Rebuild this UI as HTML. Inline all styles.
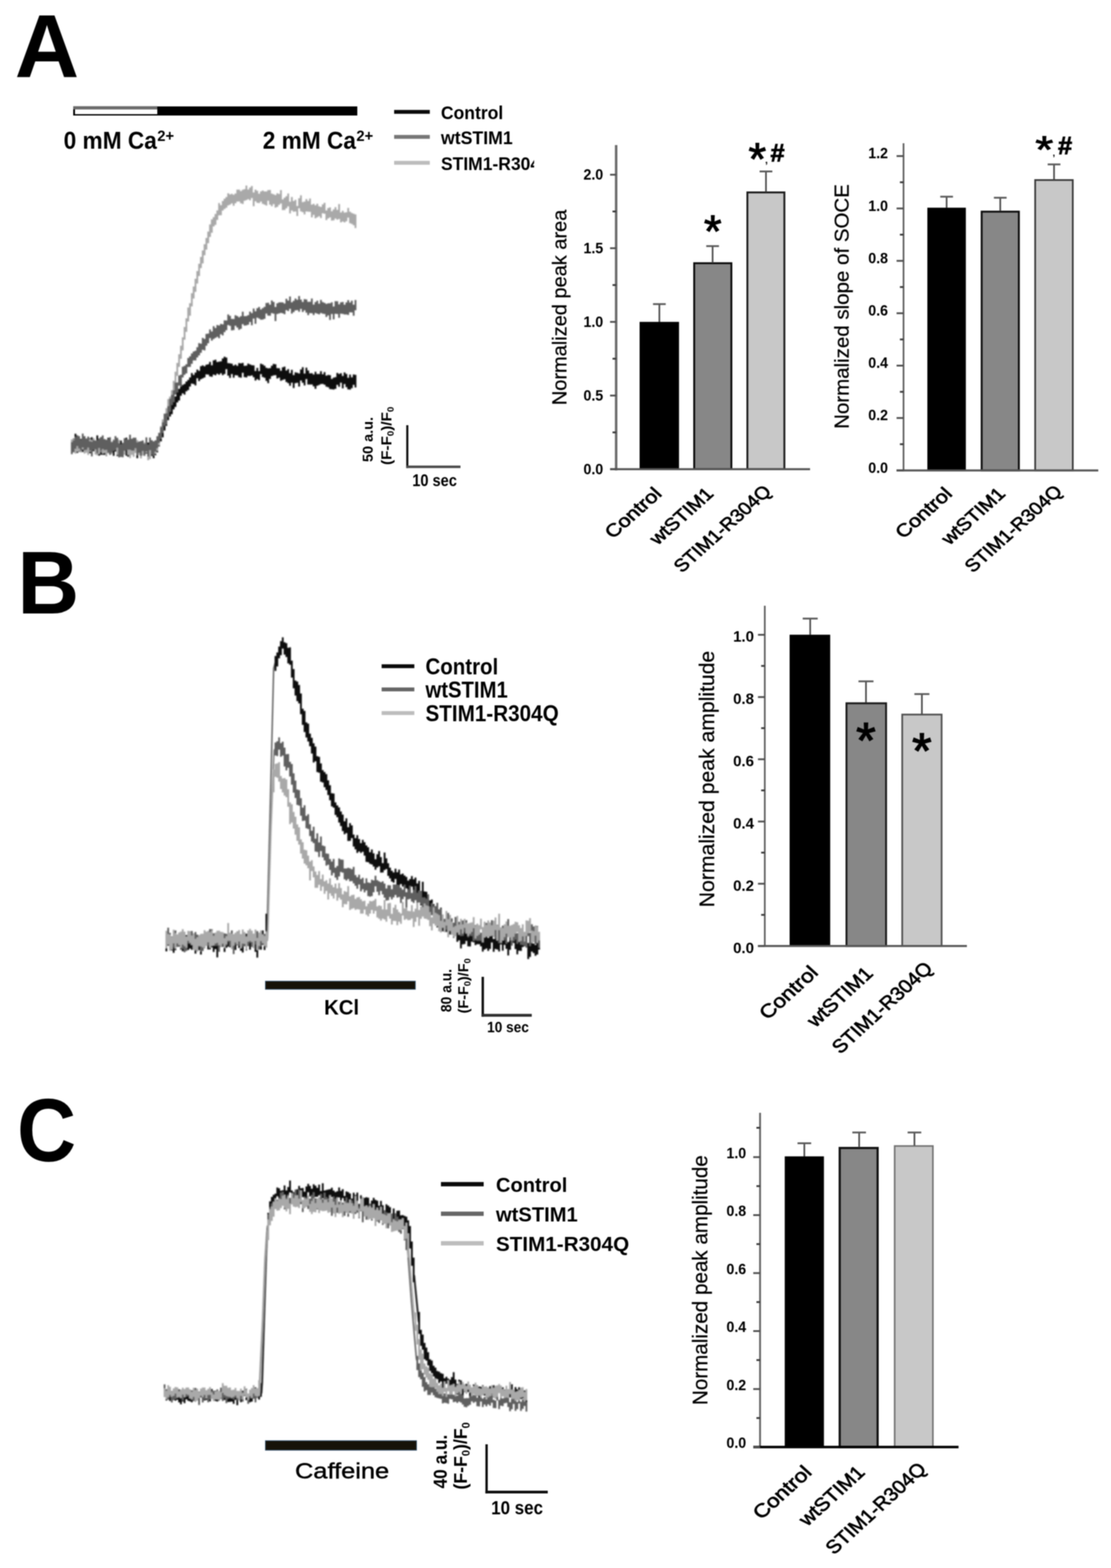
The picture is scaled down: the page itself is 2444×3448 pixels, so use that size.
<!DOCTYPE html>
<html lang="en">
<head>
<meta charset="utf-8">
<title>Figure: STIM1-R304Q calcium responses</title>
<style>
html,body{margin:0;padding:0;background:#fff;}
body{width:2444px;height:3448px;overflow:hidden;}
svg{display:block;font-family:"Liberation Sans", sans-serif;filter:blur(1px);}
</style>
</head>
<body>
<svg width="2444" height="3448" viewBox="0 0 2444 3448">
<rect x="0" y="0" width="2444" height="3448" fill="#fff"/>
<defs><filter id="soft" x="-5%" y="-20%" width="110%" height="140%"><feGaussianBlur stdDeviation="1.25"/></filter></defs>
<text x="32.5" y="169.8" font-size="196" font-weight="bold" text-anchor="start" fill="#000" >A</text>
<text x="38.2" y="1348.8" font-size="196" font-weight="bold" text-anchor="start" fill="#000" textLength="136" lengthAdjust="spacingAndGlyphs" >B</text>
<text x="37.5" y="2553" font-size="196" font-weight="bold" text-anchor="start" fill="#000" textLength="130" lengthAdjust="spacingAndGlyphs" >C</text>
<rect x="161" y="234" width="625" height="20" fill="#000"/>
<rect x="161" y="233.5" width="185" height="7" fill="#6b6b6b"/>
<rect x="165" y="240.5" width="181" height="10.5" fill="#fff"/>
<text font-weight="bold" fill="#000"><tspan x="140" y="327" font-size="54" textLength="205" lengthAdjust="spacingAndGlyphs">0 mM Ca</tspan><tspan x="346" y="310" font-size="33" textLength="37" lengthAdjust="spacingAndGlyphs">2+</tspan></text>
<text font-weight="bold" fill="#000"><tspan x="578" y="327" font-size="54" textLength="205" lengthAdjust="spacingAndGlyphs">2 mM Ca</tspan><tspan x="784" y="310" font-size="33" textLength="37" lengthAdjust="spacingAndGlyphs">2+</tspan></text>
<clipPath id="clipA"><rect x="850" y="200" width="325" height="200"/></clipPath>
<g clip-path="url(#clipA)">
<line x1="867" y1="246" x2="945.5" y2="246" stroke="#0a0a0a" stroke-width="8.5" stroke-linecap="butt"/>
<text x="970" y="261.5" font-size="41" font-weight="bold" text-anchor="start" fill="#000" textLength="137" lengthAdjust="spacingAndGlyphs" >Control</text>
<line x1="867" y1="301" x2="945.5" y2="301" stroke="#777" stroke-width="8.5" stroke-linecap="butt"/>
<text x="970" y="316.5" font-size="41" font-weight="bold" text-anchor="start" fill="#000" textLength="158" lengthAdjust="spacingAndGlyphs" >wtSTIM1</text>
<line x1="867" y1="358" x2="945.5" y2="358" stroke="#bdbdbd" stroke-width="8.5" stroke-linecap="butt"/>
<text x="970" y="373.5" font-size="41" font-weight="bold" text-anchor="start" fill="#000" textLength="248" lengthAdjust="spacingAndGlyphs" >STIM1-R304Q</text>
</g>
<g filter="url(#soft)">
<path d="M156.0,968.7h4.0v21.5h-4.0zM160.0,964.4h4.0v24.4h-4.0zM164.0,953.8h4.0v38.6h-4.0zM168.0,961.6h4.0v34.3h-4.0zM172.0,973.5h4.0v20.1h-4.0zM176.0,965.1h4.0v23.5h-4.0zM180.0,967.4h4.0v26.5h-4.0zM184.0,959.6h4.0v25.6h-4.0zM188.0,967.3h4.0v22.7h-4.0zM192.0,969.6h4.0v24.8h-4.0zM196.0,963.4h4.0v33.4h-4.0zM200.0,961.6h4.0v29.6h-4.0zM204.0,964.5h4.0v27.8h-4.0zM208.0,973.3h4.0v25.5h-4.0zM212.0,957.5h4.0v33.8h-4.0zM216.0,973.4h4.0v28.6h-4.0zM220.0,973.1h4.0v26.9h-4.0zM224.0,972.4h4.0v27.6h-4.0zM228.0,976.3h4.0v23.9h-4.0zM232.0,975.8h4.0v27.3h-4.0zM236.0,962.8h4.0v26.9h-4.0zM240.0,963.8h4.0v32.6h-4.0zM244.0,972.3h4.0v23.2h-4.0zM248.0,979.3h4.0v23.0h-4.0zM252.0,967.6h4.0v25.4h-4.0zM256.0,972.7h4.0v30.1h-4.0zM260.0,970.6h4.0v22.7h-4.0zM264.0,968.8h4.0v29.7h-4.0zM268.0,977.5h4.0v23.9h-4.0zM272.0,966.0h4.0v26.8h-4.0zM276.0,962.6h4.0v39.4h-4.0zM280.0,970.5h4.0v33.8h-4.0zM284.0,971.2h4.0v23.8h-4.0zM288.0,965.1h4.0v30.0h-4.0zM292.0,977.1h4.0v25.3h-4.0zM296.0,974.1h4.0v21.4h-4.0zM300.0,977.2h4.0v30.3h-4.0zM304.0,971.2h4.0v27.3h-4.0zM308.0,970.2h4.0v31.8h-4.0zM312.0,970.0h4.0v29.4h-4.0zM316.0,977.8h4.0v23.7h-4.0zM320.0,977.6h4.0v19.9h-4.0zM324.0,973.0h4.0v24.6h-4.0zM328.0,979.2h4.0v21.5h-4.0zM332.0,982.1h4.0v20.7h-4.0zM336.0,980.1h4.0v27.3h-4.0zM340.0,970.9h4.0v30.1h-4.0zM344.0,971.5h4.0v23.3h-4.0zM348.0,959.2h4.0v22.2h-4.0zM352.0,946.1h4.0v24.5h-4.0zM356.0,936.4h4.0v25.3h-4.0zM360.0,922.8h4.0v24.0h-4.0zM364.0,912.4h4.0v24.2h-4.0zM368.0,900.9h4.0v23.1h-4.0zM372.0,892.7h4.0v23.2h-4.0zM376.0,888.1h4.0v22.7h-4.0zM380.0,877.3h4.0v23.0h-4.0zM384.0,871.8h4.0v23.0h-4.0zM388.0,855.4h4.0v29.6h-4.0zM392.0,855.1h4.0v25.7h-4.0zM396.0,849.7h4.0v20.5h-4.0zM400.0,846.6h4.0v18.4h-4.0zM404.0,844.3h4.0v23.5h-4.0zM408.0,838.9h4.0v21.6h-4.0zM412.0,835.6h4.0v22.1h-4.0zM416.0,829.9h4.0v20.0h-4.0zM420.0,820.2h4.0v23.3h-4.0zM424.0,824.5h4.0v19.9h-4.0zM428.0,819.3h4.0v28.1h-4.0zM432.0,812.7h4.0v19.0h-4.0zM436.0,815.6h4.0v22.4h-4.0zM440.0,805.3h4.0v28.6h-4.0zM444.0,803.6h4.0v28.5h-4.0zM448.0,805.4h4.0v24.7h-4.0zM452.0,801.9h4.0v21.4h-4.0zM456.0,801.1h4.0v22.7h-4.0zM460.0,795.8h4.0v31.9h-4.0zM464.0,803.2h4.0v25.3h-4.0zM468.0,792.4h4.0v31.3h-4.0zM472.0,791.1h4.0v34.1h-4.0zM476.0,795.9h4.0v25.8h-4.0zM480.0,795.3h4.0v28.7h-4.0zM484.0,794.4h4.0v26.3h-4.0zM488.0,788.2h4.0v36.9h-4.0zM492.0,784.4h4.0v38.2h-4.0zM496.0,786.3h4.0v25.5h-4.0zM500.0,798.6h4.0v27.5h-4.0zM504.0,798.9h4.0v32.1h-4.0zM508.0,799.8h4.0v22.6h-4.0zM512.0,803.9h4.0v26.5h-4.0zM516.0,801.8h4.0v23.2h-4.0zM520.0,804.5h4.0v21.1h-4.0zM524.0,798.5h4.0v31.1h-4.0zM528.0,799.0h4.0v31.5h-4.0zM532.0,798.0h4.0v21.7h-4.0zM536.0,804.4h4.0v24.8h-4.0zM540.0,804.1h4.0v26.0h-4.0zM544.0,799.6h4.0v26.8h-4.0zM548.0,801.3h4.0v25.5h-4.0zM552.0,802.9h4.0v22.7h-4.0zM556.0,803.4h4.0v26.0h-4.0zM560.0,815.8h4.0v21.0h-4.0zM564.0,809.1h4.0v24.7h-4.0zM568.0,816.1h4.0v19.9h-4.0zM572.0,799.8h4.0v23.0h-4.0zM576.0,801.4h4.0v27.6h-4.0zM580.0,804.3h4.0v26.5h-4.0zM584.0,808.7h4.0v28.9h-4.0zM588.0,810.0h4.0v32.6h-4.0zM592.0,809.6h4.0v23.6h-4.0zM596.0,804.2h4.0v22.8h-4.0zM600.0,800.3h4.0v25.2h-4.0zM604.0,800.9h4.0v24.1h-4.0zM608.0,809.4h4.0v22.8h-4.0zM612.0,809.7h4.0v20.8h-4.0zM616.0,815.2h4.0v22.0h-4.0zM620.0,807.7h4.0v27.8h-4.0zM624.0,806.3h4.0v27.6h-4.0zM628.0,814.8h4.0v25.2h-4.0zM632.0,811.7h4.0v30.9h-4.0zM636.0,820.5h4.0v27.7h-4.0zM640.0,813.2h4.0v28.4h-4.0zM644.0,824.8h4.0v28.5h-4.0zM648.0,818.7h4.0v23.8h-4.0zM652.0,819.7h4.0v22.0h-4.0zM656.0,821.2h4.0v28.9h-4.0zM660.0,812.5h4.0v24.2h-4.0zM664.0,807.5h4.0v34.2h-4.0zM668.0,821.5h4.0v25.9h-4.0zM672.0,808.6h4.0v25.0h-4.0zM676.0,814.8h4.0v30.6h-4.0zM680.0,820.9h4.0v24.7h-4.0zM684.0,820.8h4.0v24.6h-4.0zM688.0,823.6h4.0v26.0h-4.0zM692.0,817.5h4.0v37.5h-4.0zM696.0,822.4h4.0v25.9h-4.0zM700.0,822.6h4.0v23.9h-4.0zM704.0,816.3h4.0v28.2h-4.0zM708.0,823.1h4.0v21.2h-4.0zM712.0,818.2h4.0v27.7h-4.0zM716.0,825.9h4.0v24.3h-4.0zM720.0,824.4h4.0v27.1h-4.0zM724.0,825.1h4.0v30.3h-4.0zM728.0,833.3h4.0v22.6h-4.0zM732.0,830.6h4.0v25.8h-4.0zM736.0,829.3h4.0v25.6h-4.0zM740.0,820.0h4.0v26.2h-4.0zM744.0,822.3h4.0v28.1h-4.0zM748.0,820.8h4.0v20.7h-4.0zM752.0,826.7h4.0v27.3h-4.0zM756.0,818.9h4.0v25.6h-4.0zM760.0,822.3h4.0v28.9h-4.0zM764.0,830.8h4.0v25.5h-4.0zM768.0,823.7h4.0v33.0h-4.0zM772.0,829.8h4.0v23.8h-4.0zM776.0,823.6h4.0v22.7h-4.0zM780.0,824.2h4.0v27.7h-4.0z" fill="#0a0a0a"/>
<path d="M156.0,966.2h4.0v27.3h-4.0zM160.0,966.1h4.0v23.6h-4.0zM164.0,963.5h4.0v34.0h-4.0zM168.0,963.1h4.0v30.2h-4.0zM172.0,967.2h4.0v24.8h-4.0zM176.0,971.5h4.0v23.2h-4.0zM180.0,961.9h4.0v26.7h-4.0zM184.0,972.1h4.0v25.3h-4.0zM188.0,967.9h4.0v27.5h-4.0zM192.0,973.7h4.0v26.5h-4.0zM196.0,965.2h4.0v27.7h-4.0zM200.0,968.0h4.0v28.4h-4.0zM204.0,963.2h4.0v25.4h-4.0zM208.0,977.8h4.0v21.6h-4.0zM212.0,973.0h4.0v28.3h-4.0zM216.0,970.4h4.0v27.5h-4.0zM220.0,964.1h4.0v29.4h-4.0zM224.0,968.9h4.0v28.7h-4.0zM228.0,973.3h4.0v22.9h-4.0zM232.0,978.1h4.0v24.4h-4.0zM236.0,973.5h4.0v23.5h-4.0zM240.0,969.6h4.0v30.8h-4.0zM244.0,970.7h4.0v28.4h-4.0zM248.0,966.1h4.0v24.5h-4.0zM252.0,959.7h4.0v25.9h-4.0zM256.0,964.5h4.0v36.0h-4.0zM260.0,967.2h4.0v35.0h-4.0zM264.0,977.6h4.0v21.0h-4.0zM268.0,975.0h4.0v23.6h-4.0zM272.0,978.2h4.0v21.8h-4.0zM276.0,969.7h4.0v19.8h-4.0zM280.0,979.5h4.0v20.9h-4.0zM284.0,977.6h4.0v29.7h-4.0zM288.0,974.2h4.0v26.1h-4.0zM292.0,978.5h4.0v26.1h-4.0zM296.0,971.2h4.0v24.2h-4.0zM300.0,967.8h4.0v30.1h-4.0zM304.0,976.0h4.0v24.9h-4.0zM308.0,977.5h4.0v30.5h-4.0zM312.0,974.0h4.0v27.8h-4.0zM316.0,973.0h4.0v29.9h-4.0zM320.0,976.0h4.0v19.6h-4.0zM324.0,981.6h4.0v30.4h-4.0zM328.0,977.6h4.0v31.8h-4.0zM332.0,975.6h4.0v23.0h-4.0zM336.0,978.0h4.0v22.0h-4.0zM340.0,975.5h4.0v22.6h-4.0zM344.0,967.2h4.0v24.4h-4.0zM348.0,954.2h4.0v25.1h-4.0zM352.0,936.9h4.0v25.5h-4.0zM356.0,922.3h4.0v26.8h-4.0zM360.0,909.8h4.0v25.2h-4.0zM364.0,897.4h4.0v26.2h-4.0zM368.0,877.4h4.0v27.4h-4.0zM372.0,871.9h4.0v24.9h-4.0zM376.0,857.9h4.0v24.3h-4.0zM380.0,837.6h4.0v30.0h-4.0zM384.0,817.6h4.0v29.1h-4.0zM388.0,798.1h4.0v28.5h-4.0zM392.0,779.0h4.0v27.7h-4.0zM396.0,760.3h4.0v28.6h-4.0zM400.0,741.7h4.0v28.7h-4.0zM404.0,719.0h4.0v27.9h-4.0zM408.0,700.1h4.0v29.6h-4.0zM412.0,676.2h4.0v30.9h-4.0zM416.0,666.7h4.0v27.5h-4.0zM420.0,644.8h4.0v29.0h-4.0zM424.0,630.1h4.0v26.3h-4.0zM428.0,613.0h4.0v28.8h-4.0zM432.0,595.9h4.0v27.6h-4.0zM436.0,580.1h4.0v26.9h-4.0zM440.0,565.0h4.0v24.5h-4.0zM444.0,550.8h4.0v28.5h-4.0zM448.0,537.0h4.0v24.2h-4.0zM452.0,523.3h4.0v25.7h-4.0zM456.0,509.3h4.0v25.4h-4.0zM460.0,493.4h4.0v27.5h-4.0zM464.0,482.4h4.0v29.3h-4.0zM468.0,477.6h4.0v20.3h-4.0zM472.0,470.6h4.0v23.8h-4.0zM476.0,462.8h4.0v20.8h-4.0zM480.0,446.4h4.0v27.1h-4.0zM484.0,451.2h4.0v22.1h-4.0zM488.0,442.1h4.0v21.0h-4.0zM492.0,436.9h4.0v22.5h-4.0zM496.0,433.3h4.0v23.5h-4.0zM500.0,424.9h4.0v26.9h-4.0zM504.0,427.4h4.0v22.6h-4.0zM508.0,426.3h4.0v21.0h-4.0zM512.0,428.3h4.0v24.2h-4.0zM516.0,425.5h4.0v21.5h-4.0zM520.0,417.1h4.0v26.2h-4.0zM524.0,416.9h4.0v26.2h-4.0zM528.0,420.3h4.0v26.7h-4.0zM532.0,417.2h4.0v31.4h-4.0zM536.0,415.9h4.0v25.5h-4.0zM540.0,407.9h4.0v32.0h-4.0zM544.0,416.7h4.0v21.4h-4.0zM548.0,412.6h4.0v28.0h-4.0zM552.0,409.0h4.0v26.5h-4.0zM556.0,423.3h4.0v30.1h-4.0zM560.0,416.9h4.0v25.6h-4.0zM564.0,419.5h4.0v26.4h-4.0zM568.0,426.1h4.0v20.4h-4.0zM572.0,420.9h4.0v22.4h-4.0zM576.0,419.0h4.0v29.2h-4.0zM580.0,421.1h4.0v29.0h-4.0zM584.0,421.0h4.0v31.1h-4.0zM588.0,417.9h4.0v23.7h-4.0zM592.0,417.8h4.0v32.3h-4.0zM596.0,425.7h4.0v27.8h-4.0zM600.0,427.3h4.0v21.5h-4.0zM604.0,428.9h4.0v27.6h-4.0zM608.0,424.9h4.0v30.2h-4.0zM612.0,426.4h4.0v24.2h-4.0zM616.0,418.1h4.0v29.4h-4.0zM620.0,438.6h4.0v23.5h-4.0zM624.0,434.8h4.0v27.0h-4.0zM628.0,431.4h4.0v26.7h-4.0zM632.0,425.4h4.0v28.3h-4.0zM636.0,443.5h4.0v25.8h-4.0zM640.0,433.3h4.0v29.4h-4.0zM644.0,442.0h4.0v23.5h-4.0zM648.0,439.6h4.0v25.5h-4.0zM652.0,453.1h4.0v21.8h-4.0zM656.0,436.0h4.0v22.0h-4.0zM660.0,429.4h4.0v35.4h-4.0zM664.0,444.5h4.0v21.9h-4.0zM668.0,443.2h4.0v28.4h-4.0zM672.0,437.7h4.0v27.4h-4.0zM676.0,441.9h4.0v23.7h-4.0zM680.0,436.6h4.0v29.2h-4.0zM684.0,449.9h4.0v28.1h-4.0zM688.0,448.2h4.0v24.2h-4.0zM692.0,451.5h4.0v28.6h-4.0zM696.0,448.1h4.0v29.7h-4.0zM700.0,453.5h4.0v22.0h-4.0zM704.0,455.1h4.0v24.3h-4.0zM708.0,449.4h4.0v19.5h-4.0zM712.0,445.9h4.0v24.2h-4.0zM716.0,462.7h4.0v21.4h-4.0zM720.0,457.4h4.0v22.8h-4.0zM724.0,456.0h4.0v22.0h-4.0zM728.0,464.4h4.0v20.7h-4.0zM732.0,460.6h4.0v23.8h-4.0zM736.0,455.6h4.0v25.0h-4.0zM740.0,461.6h4.0v21.5h-4.0zM744.0,448.8h4.0v32.8h-4.0zM748.0,467.2h4.0v21.9h-4.0zM752.0,463.5h4.0v23.6h-4.0zM756.0,467.4h4.0v21.6h-4.0zM760.0,466.7h4.0v19.7h-4.0zM764.0,457.2h4.0v21.2h-4.0zM768.0,465.6h4.0v25.2h-4.0zM772.0,468.3h4.0v24.3h-4.0zM776.0,470.1h4.0v25.1h-4.0zM780.0,471.4h4.0v30.2h-4.0z" fill="#a9a9a9"/>
<path d="M156.0,972.2h4.0v26.5h-4.0zM160.0,968.2h4.0v26.4h-4.0zM164.0,961.0h4.0v25.8h-4.0zM168.0,957.1h4.0v24.0h-4.0zM172.0,958.9h4.0v27.3h-4.0zM176.0,966.2h4.0v24.5h-4.0zM180.0,953.4h4.0v30.6h-4.0zM184.0,960.6h4.0v29.3h-4.0zM188.0,964.2h4.0v25.1h-4.0zM192.0,959.9h4.0v24.4h-4.0zM196.0,970.5h4.0v20.6h-4.0zM200.0,971.3h4.0v32.3h-4.0zM204.0,967.7h4.0v21.8h-4.0zM208.0,968.5h4.0v19.6h-4.0zM212.0,967.6h4.0v29.2h-4.0zM216.0,964.0h4.0v21.2h-4.0zM220.0,960.9h4.0v30.9h-4.0zM224.0,957.4h4.0v30.2h-4.0zM228.0,965.5h4.0v24.2h-4.0zM232.0,967.0h4.0v22.3h-4.0zM236.0,965.4h4.0v29.9h-4.0zM240.0,961.6h4.0v38.3h-4.0zM244.0,972.5h4.0v22.9h-4.0zM248.0,968.2h4.0v23.2h-4.0zM252.0,958.9h4.0v31.2h-4.0zM256.0,962.8h4.0v21.6h-4.0zM260.0,974.8h4.0v30.9h-4.0zM264.0,977.4h4.0v27.3h-4.0zM268.0,973.7h4.0v31.7h-4.0zM272.0,963.4h4.0v27.9h-4.0zM276.0,966.2h4.0v22.8h-4.0zM280.0,966.5h4.0v22.6h-4.0zM284.0,955.9h4.0v33.0h-4.0zM288.0,964.8h4.0v26.3h-4.0zM292.0,962.5h4.0v28.4h-4.0zM296.0,962.4h4.0v23.1h-4.0zM300.0,972.7h4.0v28.2h-4.0zM304.0,971.2h4.0v24.6h-4.0zM308.0,970.2h4.0v32.2h-4.0zM312.0,968.6h4.0v23.2h-4.0zM316.0,975.8h4.0v25.8h-4.0zM320.0,961.7h4.0v31.0h-4.0zM324.0,977.7h4.0v26.4h-4.0zM328.0,962.2h4.0v27.7h-4.0zM332.0,968.0h4.0v32.2h-4.0zM336.0,970.4h4.0v31.8h-4.0zM340.0,968.2h4.0v24.8h-4.0zM344.0,959.2h4.0v26.2h-4.0zM348.0,951.7h4.0v22.3h-4.0zM352.0,939.5h4.0v25.4h-4.0zM356.0,928.6h4.0v23.3h-4.0zM360.0,909.8h4.0v26.8h-4.0zM364.0,908.8h4.0v24.6h-4.0zM368.0,892.9h4.0v23.9h-4.0zM372.0,876.8h4.0v28.7h-4.0zM376.0,868.2h4.0v22.4h-4.0zM380.0,858.2h4.0v25.8h-4.0zM384.0,841.6h4.0v26.1h-4.0zM388.0,841.1h4.0v21.7h-4.0zM392.0,825.7h4.0v22.4h-4.0zM396.0,823.9h4.0v25.6h-4.0zM400.0,806.4h4.0v23.7h-4.0zM404.0,804.6h4.0v19.6h-4.0zM408.0,801.0h4.0v20.0h-4.0zM412.0,787.3h4.0v19.7h-4.0zM416.0,783.6h4.0v23.2h-4.0zM420.0,777.3h4.0v22.7h-4.0zM424.0,773.0h4.0v19.6h-4.0zM428.0,771.2h4.0v21.4h-4.0zM432.0,763.4h4.0v22.5h-4.0zM436.0,754.6h4.0v27.0h-4.0zM440.0,755.8h4.0v20.0h-4.0zM444.0,743.0h4.0v26.3h-4.0zM448.0,745.3h4.0v25.2h-4.0zM452.0,734.2h4.0v26.1h-4.0zM456.0,733.6h4.0v21.2h-4.0zM460.0,724.6h4.0v18.9h-4.0zM464.0,729.1h4.0v19.8h-4.0zM468.0,717.3h4.0v28.2h-4.0zM472.0,721.3h4.0v21.8h-4.0zM476.0,714.8h4.0v26.0h-4.0zM480.0,715.8h4.0v28.0h-4.0zM484.0,712.2h4.0v22.9h-4.0zM488.0,713.3h4.0v24.1h-4.0zM492.0,704.4h4.0v25.9h-4.0zM496.0,704.7h4.0v21.2h-4.0zM500.0,691.6h4.0v23.2h-4.0zM504.0,694.6h4.0v22.0h-4.0zM508.0,701.2h4.0v25.3h-4.0zM512.0,701.6h4.0v24.2h-4.0zM516.0,693.3h4.0v23.0h-4.0zM520.0,695.0h4.0v25.3h-4.0zM524.0,697.7h4.0v27.6h-4.0zM528.0,695.3h4.0v27.7h-4.0zM532.0,685.4h4.0v27.3h-4.0zM536.0,695.3h4.0v20.8h-4.0zM540.0,695.0h4.0v20.4h-4.0zM544.0,693.0h4.0v21.0h-4.0zM548.0,685.3h4.0v22.6h-4.0zM552.0,688.4h4.0v26.8h-4.0zM556.0,678.4h4.0v22.1h-4.0zM560.0,684.6h4.0v27.3h-4.0zM564.0,677.8h4.0v20.8h-4.0zM568.0,674.9h4.0v25.6h-4.0zM572.0,680.6h4.0v22.4h-4.0zM576.0,677.5h4.0v25.2h-4.0zM580.0,674.7h4.0v26.4h-4.0zM584.0,666.3h4.0v23.2h-4.0zM588.0,665.8h4.0v28.1h-4.0zM592.0,670.0h4.0v24.3h-4.0zM596.0,660.8h4.0v27.8h-4.0zM600.0,664.0h4.0v25.8h-4.0zM604.0,675.0h4.0v31.1h-4.0zM608.0,667.1h4.0v23.3h-4.0zM612.0,664.9h4.0v24.4h-4.0zM616.0,664.7h4.0v23.4h-4.0zM620.0,665.0h4.0v24.0h-4.0zM624.0,667.6h4.0v23.5h-4.0zM628.0,656.9h4.0v25.1h-4.0zM632.0,661.1h4.0v22.8h-4.0zM636.0,652.1h4.0v26.9h-4.0zM640.0,664.7h4.0v24.8h-4.0zM644.0,661.4h4.0v24.9h-4.0zM648.0,656.6h4.0v25.8h-4.0zM652.0,659.3h4.0v22.6h-4.0zM656.0,651.1h4.0v34.5h-4.0zM660.0,658.7h4.0v20.5h-4.0zM664.0,663.9h4.0v22.2h-4.0zM668.0,657.8h4.0v24.4h-4.0zM672.0,658.6h4.0v29.0h-4.0zM676.0,663.7h4.0v29.4h-4.0zM680.0,663.4h4.0v25.2h-4.0zM684.0,656.5h4.0v32.3h-4.0zM688.0,669.7h4.0v23.1h-4.0zM692.0,664.2h4.0v24.1h-4.0zM696.0,661.3h4.0v28.5h-4.0zM700.0,667.8h4.0v23.5h-4.0zM704.0,659.5h4.0v28.7h-4.0zM708.0,664.3h4.0v25.4h-4.0zM712.0,666.0h4.0v24.5h-4.0zM716.0,668.3h4.0v28.8h-4.0zM720.0,666.9h4.0v26.6h-4.0zM724.0,666.7h4.0v36.8h-4.0zM728.0,664.7h4.0v25.8h-4.0zM732.0,674.0h4.0v28.2h-4.0zM736.0,662.2h4.0v27.9h-4.0zM740.0,662.6h4.0v27.8h-4.0zM744.0,669.2h4.0v29.6h-4.0zM748.0,664.7h4.0v25.0h-4.0zM752.0,663.9h4.0v26.3h-4.0zM756.0,670.0h4.0v21.4h-4.0zM760.0,665.1h4.0v26.4h-4.0zM764.0,660.0h4.0v32.5h-4.0zM768.0,665.2h4.0v21.6h-4.0zM772.0,661.3h4.0v25.8h-4.0zM776.0,670.1h4.0v24.1h-4.0zM780.0,659.7h4.0v22.5h-4.0z" fill="#5e5e5e"/>
</g>
<line x1="896" y1="935" x2="896" y2="1029.25" stroke="#0d0d0d" stroke-width="4.675" stroke-linecap="butt"/>
<line x1="893.69" y1="1026.5" x2="1013" y2="1026.5" stroke="#4a4a4a" stroke-width="5.5" stroke-linecap="butt"/>
<text x="907" y="1069" font-size="37" font-weight="bold" text-anchor="start" fill="#000" textLength="98" lengthAdjust="spacingAndGlyphs" >10 sec</text>
<text x="0" y="0" font-size="32" font-weight="bold" text-anchor="start" fill="#000" textLength="99" lengthAdjust="spacingAndGlyphs" transform="translate(820,1016) rotate(-90)" >50 a.u.</text>
<text x="0" y="0" font-size="32" font-weight="bold" text-anchor="start" fill="#000" textLength="128" lengthAdjust="spacingAndGlyphs" transform="translate(861,1022.5) rotate(-90)" >(F-F<tspan font-size="19.8" dy="5.1">0</tspan><tspan dy="-5.1">)/F</tspan><tspan font-size="19.8" dy="5.1">0</tspan></text>
<rect x="1407" y="707.8" width="86.70000000000005" height="324.0" fill="#000"/>
<rect x="1527.1" y="578.8000000000001" width="81.8" height="452.9999999999999" fill="#878787" stroke="#0c0c0c" stroke-width="4.2"/>
<rect x="1644.1" y="423.1" width="81.3999999999999" height="608.6999999999999" fill="#c8c8c8" stroke="#1c1c1c" stroke-width="4.2"/>
<line x1="1450.5" y1="668.7" x2="1450.5" y2="708" stroke="#4a4a4a" stroke-width="3.6" stroke-linecap="butt"/>
<line x1="1436.5" y1="668.7" x2="1464.5" y2="668.7" stroke="#5a5a5a" stroke-width="4" stroke-linecap="butt"/>
<line x1="1567.6" y1="541.2" x2="1567.6" y2="578" stroke="#4a4a4a" stroke-width="3.6" stroke-linecap="butt"/>
<line x1="1553.6" y1="541.2" x2="1581.6" y2="541.2" stroke="#5a5a5a" stroke-width="4" stroke-linecap="butt"/>
<line x1="1685" y1="377" x2="1685" y2="422" stroke="#4a4a4a" stroke-width="3.6" stroke-linecap="butt"/>
<line x1="1671.0" y1="377" x2="1699.0" y2="377" stroke="#5a5a5a" stroke-width="4" stroke-linecap="butt"/>
<line x1="1355.4" y1="319" x2="1355.4" y2="1034.55" stroke="#6b6b6b" stroke-width="5.5" stroke-linecap="butt"/>
<line x1="1342" y1="1031.8" x2="1782" y2="1031.8" stroke="#565656" stroke-width="4.5" stroke-linecap="butt"/>
<line x1="1342" y1="384.2" x2="1355.4" y2="384.2" stroke="#4f4f4f" stroke-width="4" stroke-linecap="butt"/>
<text x="1327" y="395.09999999999997" font-size="32.5" font-weight="bold" text-anchor="end" fill="#000" textLength="43.5" lengthAdjust="spacingAndGlyphs" >2.0</text>
<line x1="1342" y1="545.8" x2="1355.4" y2="545.8" stroke="#4f4f4f" stroke-width="4" stroke-linecap="butt"/>
<text x="1327" y="556.6999999999999" font-size="32.5" font-weight="bold" text-anchor="end" fill="#000" textLength="43.5" lengthAdjust="spacingAndGlyphs" >1.5</text>
<line x1="1342" y1="707.8" x2="1355.4" y2="707.8" stroke="#4f4f4f" stroke-width="4" stroke-linecap="butt"/>
<text x="1327" y="718.6999999999999" font-size="32.5" font-weight="bold" text-anchor="end" fill="#000" textLength="43.5" lengthAdjust="spacingAndGlyphs" >1.0</text>
<line x1="1342" y1="869.8" x2="1355.4" y2="869.8" stroke="#4f4f4f" stroke-width="4" stroke-linecap="butt"/>
<text x="1327" y="880.6999999999999" font-size="32.5" font-weight="bold" text-anchor="end" fill="#000" textLength="43.5" lengthAdjust="spacingAndGlyphs" >0.5</text>
<line x1="1342" y1="1031.8" x2="1355.4" y2="1031.8" stroke="#4f4f4f" stroke-width="4" stroke-linecap="butt"/>
<text x="1327" y="1042.7" font-size="32.5" font-weight="bold" text-anchor="end" fill="#000" textLength="43.5" lengthAdjust="spacingAndGlyphs" >0.0</text>
<line x1="1347.4" y1="465.0" x2="1355.4" y2="465.0" stroke="#3a3a3a" stroke-width="4" stroke-linecap="butt"/>
<line x1="1347.4" y1="626.8" x2="1355.4" y2="626.8" stroke="#3a3a3a" stroke-width="4" stroke-linecap="butt"/>
<line x1="1347.4" y1="788.8" x2="1355.4" y2="788.8" stroke="#3a3a3a" stroke-width="4" stroke-linecap="butt"/>
<line x1="1347.4" y1="950.8" x2="1355.4" y2="950.8" stroke="#3a3a3a" stroke-width="4" stroke-linecap="butt"/>
<text x="0" y="0" font-size="44" font-weight="normal" text-anchor="middle" fill="#000" textLength="430" lengthAdjust="spacingAndGlyphs" transform="translate(1246,676) rotate(-90)" stroke="#000" stroke-width="0.5">Normalized peak area</text>
<text x="0" y="0" font-size="39" font-weight="normal" text-anchor="end" fill="#000" textLength="138.6" lengthAdjust="spacingAndGlyphs" transform="translate(1458,1088) scale(1.12,1) rotate(-45)" stroke="#000" stroke-width="1.35">Control</text>
<text x="0" y="0" font-size="39" font-weight="normal" text-anchor="end" fill="#000" textLength="158.2" lengthAdjust="spacingAndGlyphs" transform="translate(1572,1088) scale(1.12,1) rotate(-45)" stroke="#000" stroke-width="1.35">wtSTIM1</text>
<text x="0" y="0" font-size="39" font-weight="normal" text-anchor="end" fill="#000" textLength="251.4" lengthAdjust="spacingAndGlyphs" transform="translate(1699,1083) scale(1.12,1) rotate(-45)" stroke="#000" stroke-width="1.35">STIM1-R304Q</text>
<text x="1568" y="543" font-size="100" font-weight="normal" text-anchor="middle" fill="#000" stroke="#000" stroke-width="2.0">*</text>
<text fill="#000" stroke="#000"><tspan x="1646.5" y="384" font-size="100" font-weight="normal" stroke-width="2.0">*</tspan><tspan x="1683" y="359" font-size="22" font-weight="bold" stroke-width="0">,</tspan><tspan x="1695" y="354.5" font-size="56" font-weight="bold" stroke-width="1.6" textLength="31" lengthAdjust="spacingAndGlyphs">#</tspan></text>
<rect x="2040" y="456.7" width="84.69999999999982" height="577.7" fill="#000"/>
<rect x="2159.5" y="465.40000000000003" width="81.8" height="569.0000000000001" fill="#878787" stroke="#0c0c0c" stroke-width="4.2"/>
<rect x="2277.2000000000003" y="395.9" width="82.7" height="638.5000000000001" fill="#c8c8c8" stroke="#3a3a3a" stroke-width="3.8"/>
<line x1="2082.4" y1="432.5" x2="2082.4" y2="457" stroke="#4a4a4a" stroke-width="3.6" stroke-linecap="butt"/>
<line x1="2068.4" y1="432.5" x2="2096.4" y2="432.5" stroke="#5a5a5a" stroke-width="4" stroke-linecap="butt"/>
<line x1="2200.4" y1="434.8" x2="2200.4" y2="464" stroke="#4a4a4a" stroke-width="3.6" stroke-linecap="butt"/>
<line x1="2186.4" y1="434.8" x2="2214.4" y2="434.8" stroke="#5a5a5a" stroke-width="4" stroke-linecap="butt"/>
<line x1="2318.7" y1="361.5" x2="2318.7" y2="395" stroke="#4a4a4a" stroke-width="3.6" stroke-linecap="butt"/>
<line x1="2304.7" y1="361.5" x2="2332.7" y2="361.5" stroke="#5a5a5a" stroke-width="4" stroke-linecap="butt"/>
<line x1="1987.6" y1="315" x2="1987.6" y2="1036.2" stroke="#5a5a5a" stroke-width="3.6" stroke-linecap="butt"/>
<line x1="1972.3" y1="1034.4" x2="2416" y2="1034.4" stroke="#565656" stroke-width="4.5" stroke-linecap="butt"/>
<line x1="1972.3" y1="343.2" x2="1987.6" y2="343.2" stroke="#4f4f4f" stroke-width="4" stroke-linecap="butt"/>
<text x="1953.5" y="348.4" font-size="32.5" font-weight="bold" text-anchor="end" fill="#000" textLength="43.5" lengthAdjust="spacingAndGlyphs" >1.2</text>
<line x1="1972.3" y1="458.4" x2="1987.6" y2="458.4" stroke="#4f4f4f" stroke-width="4" stroke-linecap="butt"/>
<text x="1953.5" y="463.59999999999997" font-size="32.5" font-weight="bold" text-anchor="end" fill="#000" textLength="43.5" lengthAdjust="spacingAndGlyphs" >1.0</text>
<line x1="1972.3" y1="573.6" x2="1987.6" y2="573.6" stroke="#4f4f4f" stroke-width="4" stroke-linecap="butt"/>
<text x="1953.5" y="578.8000000000001" font-size="32.5" font-weight="bold" text-anchor="end" fill="#000" textLength="43.5" lengthAdjust="spacingAndGlyphs" >0.8</text>
<line x1="1972.3" y1="688.8" x2="1987.6" y2="688.8" stroke="#4f4f4f" stroke-width="4" stroke-linecap="butt"/>
<text x="1953.5" y="694.0" font-size="32.5" font-weight="bold" text-anchor="end" fill="#000" textLength="43.5" lengthAdjust="spacingAndGlyphs" >0.6</text>
<line x1="1972.3" y1="804" x2="1987.6" y2="804" stroke="#4f4f4f" stroke-width="4" stroke-linecap="butt"/>
<text x="1953.5" y="809.2" font-size="32.5" font-weight="bold" text-anchor="end" fill="#000" textLength="43.5" lengthAdjust="spacingAndGlyphs" >0.4</text>
<line x1="1972.3" y1="919.2" x2="1987.6" y2="919.2" stroke="#4f4f4f" stroke-width="4" stroke-linecap="butt"/>
<text x="1953.5" y="924.4000000000001" font-size="32.5" font-weight="bold" text-anchor="end" fill="#000" textLength="43.5" lengthAdjust="spacingAndGlyphs" >0.2</text>
<line x1="1972.3" y1="1034.4" x2="1987.6" y2="1034.4" stroke="#4f4f4f" stroke-width="4" stroke-linecap="butt"/>
<text x="1953.5" y="1039.6000000000001" font-size="32.5" font-weight="bold" text-anchor="end" fill="#000" textLength="43.5" lengthAdjust="spacingAndGlyphs" >0.0</text>
<line x1="1979.6" y1="400.79999999999995" x2="1987.6" y2="400.79999999999995" stroke="#3a3a3a" stroke-width="4" stroke-linecap="butt"/>
<line x1="1979.6" y1="516.0" x2="1987.6" y2="516.0" stroke="#3a3a3a" stroke-width="4" stroke-linecap="butt"/>
<line x1="1979.6" y1="631.2" x2="1987.6" y2="631.2" stroke="#3a3a3a" stroke-width="4" stroke-linecap="butt"/>
<line x1="1979.6" y1="746.4" x2="1987.6" y2="746.4" stroke="#3a3a3a" stroke-width="4" stroke-linecap="butt"/>
<line x1="1979.6" y1="861.6" x2="1987.6" y2="861.6" stroke="#3a3a3a" stroke-width="4" stroke-linecap="butt"/>
<line x1="1979.6" y1="976.8000000000001" x2="1987.6" y2="976.8000000000001" stroke="#3a3a3a" stroke-width="4" stroke-linecap="butt"/>
<text x="0" y="0" font-size="45" font-weight="normal" text-anchor="middle" fill="#000" textLength="538" lengthAdjust="spacingAndGlyphs" transform="translate(1867,674) rotate(-90)" stroke="#000" stroke-width="0.5">Normalized slope of SOCE</text>
<text x="0" y="0" font-size="39" font-weight="normal" text-anchor="end" fill="#000" textLength="138.6" lengthAdjust="spacingAndGlyphs" transform="translate(2097,1088) scale(1.12,1) rotate(-45)" stroke="#000" stroke-width="1.35">Control</text>
<text x="0" y="0" font-size="39" font-weight="normal" text-anchor="end" fill="#000" textLength="158.2" lengthAdjust="spacingAndGlyphs" transform="translate(2214,1088) scale(1.12,1) rotate(-45)" stroke="#000" stroke-width="1.35">wtSTIM1</text>
<text x="0" y="0" font-size="39" font-weight="normal" text-anchor="end" fill="#000" textLength="251.4" lengthAdjust="spacingAndGlyphs" transform="translate(2339,1083) scale(1.12,1) rotate(-45)" stroke="#000" stroke-width="1.35">STIM1-R304Q</text>
<text fill="#000" stroke="#000"><tspan x="2277.5" y="357.7" font-size="84" font-weight="normal" stroke-width="1.8" textLength="39.5" lengthAdjust="spacingAndGlyphs">*</tspan><tspan x="2315.5" y="343" font-size="20" font-weight="bold" stroke-width="0">,</tspan><tspan x="2327.5" y="338.6" font-size="56" font-weight="bold" stroke-width="1.6" textLength="31" lengthAdjust="spacingAndGlyphs">#</tspan></text>
<line x1="839.5" y1="1465" x2="911.5" y2="1465" stroke="#0a0a0a" stroke-width="8.5" stroke-linecap="butt"/>
<text x="936" y="1482.5" font-size="50" font-weight="bold" text-anchor="start" fill="#000" textLength="160" lengthAdjust="spacingAndGlyphs" >Control</text>
<line x1="839.5" y1="1516" x2="911.5" y2="1516" stroke="#666" stroke-width="8.5" stroke-linecap="butt"/>
<text x="936" y="1533.5" font-size="50" font-weight="bold" text-anchor="start" fill="#000" textLength="181" lengthAdjust="spacingAndGlyphs" >wtSTIM1</text>
<line x1="839.5" y1="1568" x2="911.5" y2="1568" stroke="#bdbdbd" stroke-width="8.5" stroke-linecap="butt"/>
<text x="936" y="1585.5" font-size="50" font-weight="bold" text-anchor="start" fill="#000" textLength="293" lengthAdjust="spacingAndGlyphs" >STIM1-R304Q</text>
<g filter="url(#soft)">
<path d="M364.0,2059.3h4.0v32.8h-4.0zM368.0,2051.6h4.0v28.2h-4.0zM372.0,2052.4h4.0v18.9h-4.0zM376.0,2059.1h4.0v30.9h-4.0zM380.0,2075.3h4.0v20.0h-4.0zM384.0,2057.4h4.0v31.9h-4.0zM388.0,2058.0h4.0v21.8h-4.0zM392.0,2056.8h4.0v23.2h-4.0zM396.0,2058.9h4.0v21.2h-4.0zM400.0,2068.5h4.0v23.3h-4.0zM404.0,2058.5h4.0v23.4h-4.0zM408.0,2056.0h4.0v26.5h-4.0zM412.0,2065.7h4.0v23.4h-4.0zM416.0,2065.6h4.0v20.2h-4.0zM420.0,2054.0h4.0v34.4h-4.0zM424.0,2065.0h4.0v19.4h-4.0zM428.0,2067.6h4.0v29.4h-4.0zM432.0,2056.7h4.0v29.3h-4.0zM436.0,2067.1h4.0v22.4h-4.0zM440.0,2072.0h4.0v26.9h-4.0zM444.0,2057.7h4.0v23.4h-4.0zM448.0,2056.7h4.0v25.5h-4.0zM452.0,2056.6h4.0v21.8h-4.0zM456.0,2065.5h4.0v22.3h-4.0zM460.0,2066.4h4.0v21.0h-4.0zM464.0,2064.5h4.0v18.8h-4.0zM468.0,2065.1h4.0v28.2h-4.0zM472.0,2061.2h4.0v25.9h-4.0zM476.0,2071.1h4.0v34.2h-4.0zM480.0,2059.6h4.0v28.7h-4.0zM484.0,2064.3h4.0v18.0h-4.0zM488.0,2051.8h4.0v30.2h-4.0zM492.0,2072.5h4.0v20.8h-4.0zM496.0,2065.1h4.0v19.2h-4.0zM500.0,2049.9h4.0v31.6h-4.0zM504.0,2059.0h4.0v23.9h-4.0zM508.0,2046.6h4.0v34.5h-4.0zM512.0,2069.0h4.0v22.8h-4.0zM516.0,2066.3h4.0v22.6h-4.0zM520.0,2048.6h4.0v22.4h-4.0zM524.0,2056.2h4.0v28.3h-4.0zM528.0,2058.5h4.0v31.9h-4.0zM532.0,2068.7h4.0v25.8h-4.0zM536.0,2051.5h4.0v26.8h-4.0zM540.0,2053.0h4.0v28.2h-4.0zM544.0,2057.6h4.0v22.7h-4.0zM548.0,2057.1h4.0v31.2h-4.0zM552.0,2050.6h4.0v25.7h-4.0zM556.0,2054.7h4.0v27.2h-4.0zM560.0,2070.7h4.0v22.4h-4.0zM564.0,2075.9h4.0v29.8h-4.0zM568.0,2067.0h4.0v17.1h-4.0zM572.0,2065.0h4.0v23.2h-4.0zM576.0,2045.9h4.0v32.1h-4.0zM580.0,2067.7h4.0v21.3h-4.0zM584.0,2009.3h4.0v73.8h-4.0zM604.0,1442.6h4.0v32.7h-4.0zM608.0,1434.8h4.0v30.7h-4.0zM612.0,1421.8h4.0v25.7h-4.0zM616.0,1409.7h4.0v31.0h-4.0zM620.0,1401.4h4.0v24.8h-4.0zM624.0,1412.2h4.0v27.2h-4.0zM628.0,1414.2h4.0v30.5h-4.0zM632.0,1424.4h4.0v34.3h-4.0zM636.0,1423.5h4.0v38.3h-4.0zM640.0,1452.8h4.0v37.1h-4.0zM644.0,1471.3h4.0v42.1h-4.0zM648.0,1496.4h4.0v33.2h-4.0zM652.0,1498.8h4.0v43.0h-4.0zM656.0,1506.2h4.0v40.6h-4.0zM660.0,1525.1h4.0v45.3h-4.0zM664.0,1558.6h4.0v35.4h-4.0zM668.0,1563.3h4.0v46.4h-4.0zM672.0,1588.4h4.0v33.3h-4.0zM676.0,1591.3h4.0v39.3h-4.0zM680.0,1613.2h4.0v27.9h-4.0zM684.0,1622.4h4.0v34.7h-4.0zM688.0,1634.4h4.0v42.3h-4.0zM692.0,1641.7h4.0v32.3h-4.0zM696.0,1662.7h4.0v35.1h-4.0zM700.0,1664.3h4.0v34.9h-4.0zM704.0,1678.8h4.0v40.3h-4.0zM708.0,1693.5h4.0v27.3h-4.0zM712.0,1697.8h4.0v33.2h-4.0zM716.0,1702.3h4.0v34.9h-4.0zM720.0,1716.0h4.0v32.3h-4.0zM724.0,1726.7h4.0v33.0h-4.0zM728.0,1744.2h4.0v29.1h-4.0zM732.0,1744.9h4.0v31.0h-4.0zM736.0,1764.6h4.0v27.3h-4.0zM740.0,1771.0h4.0v26.0h-4.0zM744.0,1775.5h4.0v33.3h-4.0zM748.0,1784.6h4.0v32.0h-4.0zM752.0,1791.3h4.0v36.1h-4.0zM756.0,1806.0h4.0v28.4h-4.0zM760.0,1799.6h4.0v32.5h-4.0zM764.0,1819.1h4.0v30.1h-4.0zM768.0,1809.9h4.0v39.2h-4.0zM772.0,1815.0h4.0v27.9h-4.0zM776.0,1835.2h4.0v26.4h-4.0zM780.0,1843.1h4.0v24.6h-4.0zM784.0,1836.4h4.0v39.0h-4.0zM788.0,1844.9h4.0v27.4h-4.0zM792.0,1854.1h4.0v21.4h-4.0zM796.0,1846.8h4.0v26.2h-4.0zM800.0,1852.0h4.0v29.6h-4.0zM804.0,1859.0h4.0v36.3h-4.0zM808.0,1862.9h4.0v33.1h-4.0zM812.0,1873.9h4.0v25.6h-4.0zM816.0,1868.1h4.0v33.0h-4.0zM820.0,1876.5h4.0v29.1h-4.0zM824.0,1889.4h4.0v23.0h-4.0zM828.0,1878.4h4.0v29.0h-4.0zM832.0,1871.5h4.0v33.6h-4.0zM836.0,1884.8h4.0v34.0h-4.0zM840.0,1897.9h4.0v20.7h-4.0zM844.0,1874.7h4.0v38.6h-4.0zM848.0,1887.4h4.0v23.6h-4.0zM852.0,1898.3h4.0v27.8h-4.0zM856.0,1907.9h4.0v23.5h-4.0zM860.0,1914.8h4.0v23.8h-4.0zM864.0,1918.6h4.0v22.5h-4.0zM868.0,1910.3h4.0v22.4h-4.0zM872.0,1918.1h4.0v35.4h-4.0zM876.0,1912.2h4.0v34.5h-4.0zM880.0,1922.8h4.0v21.3h-4.0zM884.0,1921.1h4.0v28.5h-4.0zM888.0,1925.2h4.0v22.1h-4.0zM892.0,1928.3h4.0v25.2h-4.0zM896.0,1936.6h4.0v20.0h-4.0zM900.0,1933.1h4.0v25.6h-4.0zM904.0,1926.5h4.0v23.2h-4.0zM908.0,1933.6h4.0v25.8h-4.0zM912.0,1929.8h4.0v27.8h-4.0zM916.0,1942.8h4.0v28.8h-4.0zM920.0,1937.0h4.0v29.6h-4.0zM924.0,1958.9h4.0v32.0h-4.0zM928.0,1938.9h4.0v36.9h-4.0zM932.0,1960.3h4.0v34.0h-4.0zM936.0,1960.9h4.0v29.2h-4.0zM940.0,1982.4h4.0v26.1h-4.0zM944.0,1980.1h4.0v32.3h-4.0zM948.0,1978.1h4.0v32.8h-4.0zM952.0,1988.0h4.0v33.7h-4.0zM956.0,2000.5h4.0v27.6h-4.0zM960.0,2003.9h4.0v35.4h-4.0zM964.0,2010.3h4.0v28.7h-4.0zM968.0,1996.0h4.0v30.3h-4.0zM972.0,2022.9h4.0v25.0h-4.0zM976.0,2024.0h4.0v23.7h-4.0zM980.0,2025.5h4.0v24.1h-4.0zM984.0,2029.5h4.0v27.2h-4.0zM988.0,2032.0h4.0v23.1h-4.0zM992.0,2031.3h4.0v23.9h-4.0zM996.0,2039.3h4.0v22.9h-4.0zM1000.0,2016.7h4.0v39.3h-4.0zM1004.0,2050.3h4.0v20.6h-4.0zM1008.0,2049.1h4.0v18.7h-4.0zM1012.0,2049.1h4.0v36.3h-4.0zM1016.0,2045.0h4.0v31.7h-4.0zM1020.0,2040.6h4.0v35.2h-4.0zM1024.0,2046.7h4.0v22.3h-4.0zM1028.0,2050.5h4.0v30.4h-4.0zM1032.0,2048.6h4.0v32.7h-4.0zM1036.0,2042.3h4.0v28.5h-4.0zM1040.0,2046.5h4.0v25.4h-4.0zM1044.0,2048.8h4.0v29.4h-4.0zM1048.0,2051.1h4.0v25.2h-4.0zM1052.0,2052.5h4.0v23.8h-4.0zM1056.0,2051.9h4.0v29.0h-4.0zM1060.0,2063.2h4.0v29.2h-4.0zM1064.0,2061.5h4.0v26.6h-4.0zM1068.0,2051.7h4.0v34.0h-4.0zM1072.0,2062.3h4.0v28.7h-4.0zM1076.0,2058.6h4.0v28.1h-4.0zM1080.0,2053.9h4.0v18.6h-4.0zM1084.0,2064.8h4.0v28.1h-4.0zM1088.0,2061.6h4.0v25.2h-4.0zM1092.0,2052.9h4.0v35.0h-4.0zM1096.0,2062.1h4.0v30.1h-4.0zM1100.0,2050.7h4.0v26.1h-4.0zM1104.0,2046.8h4.0v43.7h-4.0zM1108.0,2053.8h4.0v23.9h-4.0zM1112.0,2058.3h4.0v28.2h-4.0zM1116.0,2071.6h4.0v29.4h-4.0zM1120.0,2056.7h4.0v31.7h-4.0zM1124.0,2055.5h4.0v22.9h-4.0zM1128.0,2053.8h4.0v19.7h-4.0zM1132.0,2058.7h4.0v28.4h-4.0zM1136.0,2068.1h4.0v30.5h-4.0zM1140.0,2067.8h4.0v22.6h-4.0zM1144.0,2065.2h4.0v25.7h-4.0zM1148.0,2052.8h4.0v29.7h-4.0zM1152.0,2053.8h4.0v27.0h-4.0zM1156.0,2057.5h4.0v25.1h-4.0zM1160.0,2073.6h4.0v35.3h-4.0zM1164.0,2079.8h4.0v24.4h-4.0zM1168.0,2069.1h4.0v23.3h-4.0zM1172.0,2074.8h4.0v20.9h-4.0zM1176.0,2077.8h4.0v24.0h-4.0zM1180.0,2066.0h4.0v32.9h-4.0zM1184.0,2070.0h4.0v17.9h-4.0z" fill="#0a0a0a"/>
<polyline points="587.0,2058.6 596.0,1712.5 602.0,1470.0 605.0,1458.7" fill="none" stroke="#0a0a0a" stroke-width="3.2" stroke-linejoin="round" stroke-linecap="round" opacity="0.62"/>
<path d="M364.0,2049.0h4.0v29.9h-4.0zM368.0,2040.1h4.0v38.5h-4.0zM372.0,2051.5h4.0v20.2h-4.0zM376.0,2060.0h4.0v26.5h-4.0zM380.0,2054.0h4.0v29.4h-4.0zM384.0,2046.0h4.0v23.8h-4.0zM388.0,2059.2h4.0v23.1h-4.0zM392.0,2057.2h4.0v24.9h-4.0zM396.0,2054.9h4.0v33.9h-4.0zM400.0,2061.6h4.0v24.7h-4.0zM404.0,2057.3h4.0v36.8h-4.0zM408.0,2066.8h4.0v24.4h-4.0zM412.0,2055.1h4.0v19.4h-4.0zM416.0,2050.1h4.0v25.6h-4.0zM420.0,2047.2h4.0v23.6h-4.0zM424.0,2059.8h4.0v25.8h-4.0zM428.0,2049.5h4.0v28.0h-4.0zM432.0,2055.2h4.0v22.0h-4.0zM436.0,2061.6h4.0v20.1h-4.0zM440.0,2062.4h4.0v29.5h-4.0zM444.0,2060.7h4.0v30.5h-4.0zM448.0,2048.7h4.0v33.2h-4.0zM452.0,2055.1h4.0v21.2h-4.0zM456.0,2050.4h4.0v28.7h-4.0zM460.0,2043.1h4.0v31.5h-4.0zM464.0,2043.5h4.0v25.4h-4.0zM468.0,2052.3h4.0v25.5h-4.0zM472.0,2054.3h4.0v25.5h-4.0zM476.0,2059.8h4.0v19.8h-4.0zM480.0,2055.2h4.0v37.8h-4.0zM484.0,2053.3h4.0v27.6h-4.0zM488.0,2055.4h4.0v25.0h-4.0zM492.0,2052.4h4.0v30.5h-4.0zM496.0,2053.5h4.0v25.4h-4.0zM500.0,2054.0h4.0v17.1h-4.0zM504.0,2055.3h4.0v25.7h-4.0zM508.0,2046.1h4.0v26.9h-4.0zM512.0,2070.7h4.0v27.2h-4.0zM516.0,2057.6h4.0v19.5h-4.0zM520.0,2054.5h4.0v24.6h-4.0zM524.0,2053.3h4.0v26.1h-4.0zM528.0,2064.3h4.0v19.9h-4.0zM532.0,2056.1h4.0v25.4h-4.0zM536.0,2062.2h4.0v18.9h-4.0zM540.0,2068.7h4.0v21.5h-4.0zM544.0,2059.3h4.0v20.0h-4.0zM548.0,2044.4h4.0v28.6h-4.0zM552.0,2054.4h4.0v28.1h-4.0zM556.0,2056.6h4.0v28.1h-4.0zM560.0,2054.5h4.0v22.2h-4.0zM564.0,2047.5h4.0v25.5h-4.0zM568.0,2062.1h4.0v26.2h-4.0zM572.0,2053.7h4.0v27.2h-4.0zM576.0,2056.6h4.0v20.1h-4.0zM580.0,2053.5h4.0v19.6h-4.0zM584.0,2046.7h4.0v30.1h-4.0zM604.0,1632.7h4.0v28.5h-4.0zM608.0,1630.1h4.0v32.4h-4.0zM612.0,1621.6h4.0v27.0h-4.0zM616.0,1633.9h4.0v30.1h-4.0zM620.0,1630.9h4.0v30.5h-4.0zM624.0,1643.9h4.0v41.6h-4.0zM628.0,1658.4h4.0v35.6h-4.0zM632.0,1658.1h4.0v30.1h-4.0zM636.0,1675.3h4.0v32.2h-4.0zM640.0,1680.0h4.0v45.6h-4.0zM644.0,1700.4h4.0v42.7h-4.0zM648.0,1716.6h4.0v38.1h-4.0zM652.0,1736.0h4.0v33.9h-4.0zM656.0,1737.6h4.0v34.0h-4.0zM660.0,1755.3h4.0v38.5h-4.0zM664.0,1775.9h4.0v29.3h-4.0zM668.0,1770.7h4.0v33.9h-4.0zM672.0,1794.1h4.0v27.2h-4.0zM676.0,1790.4h4.0v32.7h-4.0zM680.0,1812.5h4.0v26.0h-4.0zM684.0,1826.8h4.0v23.7h-4.0zM688.0,1818.0h4.0v36.0h-4.0zM692.0,1844.3h4.0v28.3h-4.0zM696.0,1832.4h4.0v41.0h-4.0zM700.0,1852.5h4.0v32.1h-4.0zM704.0,1839.5h4.0v32.0h-4.0zM708.0,1859.2h4.0v26.0h-4.0zM712.0,1860.8h4.0v31.1h-4.0zM716.0,1876.8h4.0v26.6h-4.0zM720.0,1877.5h4.0v24.0h-4.0zM724.0,1889.0h4.0v23.9h-4.0zM728.0,1894.5h4.0v30.4h-4.0zM732.0,1888.7h4.0v30.9h-4.0zM736.0,1907.9h4.0v21.9h-4.0zM740.0,1904.3h4.0v30.7h-4.0zM744.0,1887.7h4.0v39.6h-4.0zM748.0,1889.9h4.0v27.5h-4.0zM752.0,1890.4h4.0v28.5h-4.0zM756.0,1909.8h4.0v23.6h-4.0zM760.0,1909.7h4.0v26.5h-4.0zM764.0,1908.2h4.0v24.7h-4.0zM768.0,1909.6h4.0v28.3h-4.0zM772.0,1911.4h4.0v26.1h-4.0zM776.0,1906.3h4.0v36.2h-4.0zM780.0,1924.3h4.0v23.5h-4.0zM784.0,1929.1h4.0v25.1h-4.0zM788.0,1923.5h4.0v21.6h-4.0zM792.0,1932.9h4.0v27.1h-4.0zM796.0,1930.3h4.0v25.3h-4.0zM800.0,1942.2h4.0v20.0h-4.0zM804.0,1931.6h4.0v26.5h-4.0zM808.0,1940.6h4.0v30.0h-4.0zM812.0,1941.6h4.0v30.1h-4.0zM816.0,1934.4h4.0v36.1h-4.0zM820.0,1935.9h4.0v26.1h-4.0zM824.0,1925.7h4.0v23.4h-4.0zM828.0,1935.5h4.0v25.5h-4.0zM832.0,1937.9h4.0v30.7h-4.0zM836.0,1939.9h4.0v19.4h-4.0zM840.0,1937.9h4.0v28.9h-4.0zM844.0,1943.1h4.0v31.0h-4.0zM848.0,1953.7h4.0v26.6h-4.0zM852.0,1946.4h4.0v33.1h-4.0zM856.0,1946.8h4.0v25.6h-4.0zM860.0,1955.5h4.0v22.3h-4.0zM864.0,1944.8h4.0v28.4h-4.0zM868.0,1944.9h4.0v23.2h-4.0zM872.0,1945.7h4.0v28.1h-4.0zM876.0,1946.7h4.0v25.9h-4.0zM880.0,1951.9h4.0v33.7h-4.0zM884.0,1956.2h4.0v21.1h-4.0zM888.0,1945.4h4.0v26.4h-4.0zM892.0,1961.9h4.0v34.6h-4.0zM896.0,1956.1h4.0v21.7h-4.0zM900.0,1947.9h4.0v28.6h-4.0zM904.0,1963.5h4.0v19.0h-4.0zM908.0,1957.1h4.0v28.5h-4.0zM912.0,1949.1h4.0v30.5h-4.0zM916.0,1963.3h4.0v37.4h-4.0zM920.0,1958.7h4.0v25.8h-4.0zM924.0,1959.2h4.0v29.6h-4.0zM928.0,1973.4h4.0v33.4h-4.0zM932.0,1973.4h4.0v28.7h-4.0zM936.0,1976.4h4.0v28.2h-4.0zM940.0,1966.5h4.0v41.7h-4.0zM944.0,1993.6h4.0v27.7h-4.0zM948.0,1986.2h4.0v26.3h-4.0zM952.0,1990.6h4.0v40.3h-4.0zM956.0,1992.5h4.0v28.2h-4.0zM960.0,1985.3h4.0v27.5h-4.0zM964.0,1999.5h4.0v25.9h-4.0zM968.0,1997.8h4.0v36.8h-4.0zM972.0,2014.6h4.0v24.6h-4.0zM976.0,2020.6h4.0v25.4h-4.0zM980.0,2022.4h4.0v21.9h-4.0zM984.0,2007.4h4.0v34.8h-4.0zM988.0,2016.3h4.0v30.7h-4.0zM992.0,2019.6h4.0v26.4h-4.0zM996.0,2029.0h4.0v27.8h-4.0zM1000.0,2017.7h4.0v25.1h-4.0zM1004.0,2021.7h4.0v23.0h-4.0zM1008.0,2026.9h4.0v26.1h-4.0zM1012.0,2031.1h4.0v26.9h-4.0zM1016.0,2024.1h4.0v33.6h-4.0zM1020.0,2024.1h4.0v25.7h-4.0zM1024.0,2023.5h4.0v29.3h-4.0zM1028.0,2042.0h4.0v18.8h-4.0zM1032.0,2033.8h4.0v23.6h-4.0zM1036.0,2033.1h4.0v25.3h-4.0zM1040.0,2037.1h4.0v31.9h-4.0zM1044.0,2034.3h4.0v33.1h-4.0zM1048.0,2046.1h4.0v22.4h-4.0zM1052.0,2035.0h4.0v33.6h-4.0zM1056.0,2050.9h4.0v17.6h-4.0zM1060.0,2045.0h4.0v17.0h-4.0zM1064.0,2032.0h4.0v22.2h-4.0zM1068.0,2029.4h4.0v19.5h-4.0zM1072.0,2027.5h4.0v22.3h-4.0zM1076.0,2029.5h4.0v22.8h-4.0zM1080.0,2023.4h4.0v29.1h-4.0zM1084.0,2035.5h4.0v24.0h-4.0zM1088.0,2040.8h4.0v23.7h-4.0zM1092.0,2033.6h4.0v24.1h-4.0zM1096.0,2034.0h4.0v39.7h-4.0zM1100.0,2042.1h4.0v18.6h-4.0zM1104.0,2035.6h4.0v28.3h-4.0zM1108.0,2045.7h4.0v21.3h-4.0zM1112.0,2052.9h4.0v22.3h-4.0zM1116.0,2021.1h4.0v39.1h-4.0zM1120.0,2043.6h4.0v24.8h-4.0zM1124.0,2046.4h4.0v33.1h-4.0zM1128.0,2045.2h4.0v24.5h-4.0zM1132.0,2048.6h4.0v17.5h-4.0zM1136.0,2051.9h4.0v23.2h-4.0zM1140.0,2041.2h4.0v28.4h-4.0zM1144.0,2045.5h4.0v31.4h-4.0zM1148.0,2047.7h4.0v30.4h-4.0zM1152.0,2051.3h4.0v28.1h-4.0zM1156.0,2046.8h4.0v37.2h-4.0zM1160.0,2035.6h4.0v22.9h-4.0zM1164.0,2051.2h4.0v29.1h-4.0zM1168.0,2032.6h4.0v27.1h-4.0zM1172.0,2037.2h4.0v24.3h-4.0zM1176.0,2044.7h4.0v31.4h-4.0zM1180.0,2036.2h4.0v34.1h-4.0zM1184.0,2057.2h4.0v27.0h-4.0z" fill="#5e5e5e"/>
<polyline points="587.0,2068.0 588.0,2068.0 596.0,1800.0 603.0,1650.0 605.0,1647.1" fill="none" stroke="#5e5e5e" stroke-width="3.2" stroke-linejoin="round" stroke-linecap="round" opacity="0.8"/>
<path d="M364.0,2046.7h4.0v38.3h-4.0zM368.0,2053.8h4.0v22.6h-4.0zM372.0,2054.7h4.0v36.1h-4.0zM376.0,2059.5h4.0v28.4h-4.0zM380.0,2044.4h4.0v30.1h-4.0zM384.0,2052.1h4.0v34.3h-4.0zM388.0,2054.4h4.0v20.2h-4.0zM392.0,2050.5h4.0v27.5h-4.0zM396.0,2048.4h4.0v35.7h-4.0zM400.0,2043.3h4.0v34.0h-4.0zM404.0,2048.8h4.0v31.7h-4.0zM408.0,2059.3h4.0v24.7h-4.0zM412.0,2047.0h4.0v21.8h-4.0zM416.0,2047.6h4.0v25.7h-4.0zM420.0,2057.2h4.0v20.9h-4.0zM424.0,2052.3h4.0v37.0h-4.0zM428.0,2064.6h4.0v24.9h-4.0zM432.0,2061.1h4.0v31.6h-4.0zM436.0,2056.0h4.0v24.3h-4.0zM440.0,2053.6h4.0v27.4h-4.0zM444.0,2053.2h4.0v30.3h-4.0zM448.0,2045.6h4.0v40.4h-4.0zM452.0,2048.7h4.0v31.6h-4.0zM456.0,2046.9h4.0v25.0h-4.0zM460.0,2049.6h4.0v34.9h-4.0zM464.0,2045.8h4.0v34.4h-4.0zM468.0,2057.7h4.0v21.5h-4.0zM472.0,2050.7h4.0v24.1h-4.0zM476.0,2046.7h4.0v26.6h-4.0zM480.0,2046.4h4.0v32.1h-4.0zM484.0,2049.0h4.0v32.8h-4.0zM488.0,2049.8h4.0v25.3h-4.0zM492.0,2063.0h4.0v21.5h-4.0zM496.0,2058.4h4.0v18.0h-4.0zM500.0,2029.8h4.0v38.8h-4.0zM504.0,2050.9h4.0v17.9h-4.0zM508.0,2052.9h4.0v34.4h-4.0zM512.0,2054.0h4.0v25.7h-4.0zM516.0,2050.9h4.0v21.7h-4.0zM520.0,2049.2h4.0v27.8h-4.0zM524.0,2045.3h4.0v25.0h-4.0zM528.0,2054.0h4.0v31.2h-4.0zM532.0,2043.9h4.0v31.0h-4.0zM536.0,2049.6h4.0v25.8h-4.0zM540.0,2059.3h4.0v28.6h-4.0zM544.0,2045.9h4.0v24.8h-4.0zM548.0,2042.6h4.0v26.4h-4.0zM552.0,2046.6h4.0v25.0h-4.0zM556.0,2053.1h4.0v32.2h-4.0zM560.0,2044.0h4.0v25.0h-4.0zM564.0,2062.6h4.0v26.7h-4.0zM568.0,2050.8h4.0v29.5h-4.0zM572.0,2046.0h4.0v23.5h-4.0zM576.0,2054.6h4.0v19.3h-4.0zM580.0,2058.3h4.0v22.1h-4.0zM584.0,2048.9h4.0v35.1h-4.0zM600.0,1692.2h4.0v50.0h-4.0zM604.0,1679.8h4.0v28.4h-4.0zM608.0,1678.4h4.0v31.8h-4.0zM612.0,1675.9h4.0v42.9h-4.0zM616.0,1706.5h4.0v28.6h-4.0zM620.0,1711.8h4.0v30.8h-4.0zM624.0,1711.0h4.0v38.6h-4.0zM628.0,1713.9h4.0v39.0h-4.0zM632.0,1735.5h4.0v38.6h-4.0zM636.0,1764.6h4.0v47.7h-4.0zM640.0,1768.5h4.0v40.3h-4.0zM644.0,1785.6h4.0v36.4h-4.0zM648.0,1795.9h4.0v39.6h-4.0zM652.0,1812.8h4.0v36.3h-4.0zM656.0,1819.3h4.0v38.0h-4.0zM660.0,1845.7h4.0v31.3h-4.0zM664.0,1852.1h4.0v35.9h-4.0zM668.0,1868.5h4.0v30.6h-4.0zM672.0,1869.7h4.0v33.1h-4.0zM676.0,1881.4h4.0v27.8h-4.0zM680.0,1894.4h4.0v41.7h-4.0zM684.0,1891.6h4.0v23.9h-4.0zM688.0,1905.2h4.0v24.0h-4.0zM692.0,1916.5h4.0v35.7h-4.0zM696.0,1923.9h4.0v28.4h-4.0zM700.0,1915.4h4.0v30.4h-4.0zM704.0,1933.0h4.0v25.9h-4.0zM708.0,1923.2h4.0v26.3h-4.0zM712.0,1938.0h4.0v27.5h-4.0zM716.0,1935.6h4.0v23.7h-4.0zM720.0,1942.8h4.0v35.3h-4.0zM724.0,1931.6h4.0v33.0h-4.0zM728.0,1946.1h4.0v24.0h-4.0zM732.0,1950.9h4.0v24.9h-4.0zM736.0,1943.1h4.0v21.6h-4.0zM740.0,1953.6h4.0v26.8h-4.0zM744.0,1941.9h4.0v32.1h-4.0zM748.0,1952.8h4.0v25.4h-4.0zM752.0,1966.4h4.0v28.7h-4.0zM756.0,1959.6h4.0v28.5h-4.0zM760.0,1961.3h4.0v27.2h-4.0zM764.0,1948.5h4.0v33.3h-4.0zM768.0,1971.0h4.0v30.1h-4.0zM772.0,1968.3h4.0v30.2h-4.0zM776.0,1967.6h4.0v29.5h-4.0zM780.0,1976.7h4.0v24.0h-4.0zM784.0,1973.4h4.0v25.8h-4.0zM788.0,1972.4h4.0v27.5h-4.0zM792.0,1977.4h4.0v31.6h-4.0zM796.0,1981.7h4.0v27.4h-4.0zM800.0,1980.8h4.0v19.4h-4.0zM804.0,1992.8h4.0v18.6h-4.0zM808.0,1987.1h4.0v27.8h-4.0zM812.0,1981.2h4.0v27.7h-4.0zM816.0,1982.0h4.0v18.9h-4.0zM820.0,1980.2h4.0v28.8h-4.0zM824.0,1976.7h4.0v26.2h-4.0zM828.0,1993.3h4.0v24.3h-4.0zM832.0,1991.0h4.0v29.2h-4.0zM836.0,1992.3h4.0v32.1h-4.0zM840.0,1999.8h4.0v20.1h-4.0zM844.0,1979.0h4.0v43.1h-4.0zM848.0,1999.9h4.0v26.8h-4.0zM852.0,1986.4h4.0v28.1h-4.0zM856.0,1985.4h4.0v34.5h-4.0zM860.0,2009.4h4.0v23.5h-4.0zM864.0,1996.0h4.0v29.0h-4.0zM868.0,1989.6h4.0v35.6h-4.0zM872.0,1999.9h4.0v34.6h-4.0zM876.0,2005.7h4.0v21.1h-4.0zM880.0,2008.7h4.0v22.7h-4.0zM884.0,1983.6h4.0v29.7h-4.0zM888.0,1997.6h4.0v25.2h-4.0zM892.0,1995.5h4.0v25.2h-4.0zM896.0,2003.1h4.0v20.4h-4.0zM900.0,2003.4h4.0v19.5h-4.0zM904.0,1990.3h4.0v29.4h-4.0zM908.0,2004.5h4.0v33.9h-4.0zM912.0,1998.3h4.0v28.6h-4.0zM916.0,1985.0h4.0v31.9h-4.0zM920.0,2000.9h4.0v34.9h-4.0zM924.0,1993.6h4.0v27.0h-4.0zM928.0,1994.7h4.0v20.9h-4.0zM932.0,1986.8h4.0v33.1h-4.0zM936.0,1990.9h4.0v29.8h-4.0zM940.0,1992.6h4.0v30.3h-4.0zM944.0,2005.4h4.0v31.4h-4.0zM948.0,2017.3h4.0v28.7h-4.0zM952.0,1995.3h4.0v35.4h-4.0zM956.0,2007.2h4.0v28.2h-4.0zM960.0,2009.5h4.0v27.3h-4.0zM964.0,2012.3h4.0v35.6h-4.0zM968.0,2024.9h4.0v25.5h-4.0zM972.0,2010.8h4.0v29.3h-4.0zM976.0,2027.3h4.0v22.4h-4.0zM980.0,2003.3h4.0v32.0h-4.0zM984.0,2021.3h4.0v39.7h-4.0zM988.0,2011.7h4.0v35.5h-4.0zM992.0,2027.0h4.0v28.0h-4.0zM996.0,2038.5h4.0v22.2h-4.0zM1000.0,2035.9h4.0v23.0h-4.0zM1004.0,2013.9h4.0v36.2h-4.0zM1008.0,2033.2h4.0v22.2h-4.0zM1012.0,2020.5h4.0v23.1h-4.0zM1016.0,2032.8h4.0v20.3h-4.0zM1020.0,2020.6h4.0v19.8h-4.0zM1024.0,2029.1h4.0v23.7h-4.0zM1028.0,2030.5h4.0v27.4h-4.0zM1032.0,2029.3h4.0v24.3h-4.0zM1036.0,2028.3h4.0v20.9h-4.0zM1040.0,2016.8h4.0v24.1h-4.0zM1044.0,2035.8h4.0v28.0h-4.0zM1048.0,2031.1h4.0v26.9h-4.0zM1052.0,2034.2h4.0v21.0h-4.0zM1056.0,2020.2h4.0v23.4h-4.0zM1060.0,2038.4h4.0v33.6h-4.0zM1064.0,2026.7h4.0v34.5h-4.0zM1068.0,2033.8h4.0v25.8h-4.0zM1072.0,2024.1h4.0v36.7h-4.0zM1076.0,2028.6h4.0v29.6h-4.0zM1080.0,2034.4h4.0v23.4h-4.0zM1084.0,2024.6h4.0v36.2h-4.0zM1088.0,2017.6h4.0v27.7h-4.0zM1092.0,2034.8h4.0v33.5h-4.0zM1096.0,2009.2h4.0v36.2h-4.0zM1100.0,2039.2h4.0v34.2h-4.0zM1104.0,2040.5h4.0v27.5h-4.0zM1108.0,2032.5h4.0v28.2h-4.0zM1112.0,2026.3h4.0v26.8h-4.0zM1116.0,2035.8h4.0v24.8h-4.0zM1120.0,2035.4h4.0v25.8h-4.0zM1124.0,2034.0h4.0v33.8h-4.0zM1128.0,2032.0h4.0v28.2h-4.0zM1132.0,2026.9h4.0v26.4h-4.0zM1136.0,2028.0h4.0v21.7h-4.0zM1140.0,2034.4h4.0v36.7h-4.0zM1144.0,2040.7h4.0v28.3h-4.0zM1148.0,2032.5h4.0v26.5h-4.0zM1152.0,2048.9h4.0v21.5h-4.0zM1156.0,2023.9h4.0v34.0h-4.0zM1160.0,2024.8h4.0v27.3h-4.0zM1164.0,2018.9h4.0v30.8h-4.0zM1168.0,2046.1h4.0v27.7h-4.0zM1172.0,2047.6h4.0v24.3h-4.0zM1176.0,2034.9h4.0v22.6h-4.0zM1180.0,2037.9h4.0v35.7h-4.0zM1184.0,2049.1h4.0v18.9h-4.0z" fill="#a9a9a9"/>
<polyline points="587.0,2064.0 589.0,2064.0 596.0,1830.0 601.0,1705.0" fill="none" stroke="#a9a9a9" stroke-width="3.2" stroke-linejoin="round" stroke-linecap="round" opacity="0.9"/>
</g>
<rect x="583.8" y="2157.5" width="330" height="18" fill="#161208" stroke="#3a5a78" stroke-width="1.5"/>
<text x="751.5" y="2231" font-size="46" font-weight="bold" text-anchor="middle" fill="#000" textLength="77" lengthAdjust="spacingAndGlyphs" >KCl</text>
<line x1="1062" y1="2148" x2="1062" y2="2235.7" stroke="#0d0d0d" stroke-width="5.27" stroke-linecap="butt"/>
<line x1="1059.396" y1="2232.6" x2="1169.8" y2="2232.6" stroke="#2e2e2e" stroke-width="6.2" stroke-linecap="butt"/>
<text x="1071.5" y="2270" font-size="34" font-weight="bold" text-anchor="start" fill="#000" textLength="92" lengthAdjust="spacingAndGlyphs" >10 sec</text>
<text x="0" y="0" font-size="34" font-weight="bold" text-anchor="start" fill="#000" textLength="95" lengthAdjust="spacingAndGlyphs" transform="translate(993,2225.7) rotate(-90)" >80 a.u.</text>
<text x="0" y="0" font-size="32" font-weight="bold" text-anchor="start" fill="#000" textLength="121" lengthAdjust="spacingAndGlyphs" transform="translate(1029.5,2228.6) rotate(-90)" >(F-F<tspan font-size="19.8" dy="5.1">0</tspan><tspan dy="-5.1">)/F</tspan><tspan font-size="19.8" dy="5.1">0</tspan></text>
<rect x="1737" y="1395.7" width="89.29999999999995" height="684.4999999999998" fill="#000"/>
<rect x="1862.1" y="1546.5" width="87.09999999999995" height="533.6999999999997" fill="#878787" stroke="#1a1a1a" stroke-width="4.2"/>
<rect x="1984.7" y="1571.3000000000002" width="86.70000000000023" height="508.89999999999975" fill="#c8c8c8" stroke="#505050" stroke-width="3.8"/>
<line x1="1782.3" y1="1360.3" x2="1782.3" y2="1396" stroke="#4a4a4a" stroke-width="3.6" stroke-linecap="butt"/>
<line x1="1765.8" y1="1360.3" x2="1798.8" y2="1360.3" stroke="#5a5a5a" stroke-width="4" stroke-linecap="butt"/>
<line x1="1905" y1="1498.3" x2="1905" y2="1545" stroke="#4a4a4a" stroke-width="3.6" stroke-linecap="butt"/>
<line x1="1888.5" y1="1498.3" x2="1921.5" y2="1498.3" stroke="#5a5a5a" stroke-width="4" stroke-linecap="butt"/>
<line x1="2028" y1="1526.3" x2="2028" y2="1570" stroke="#4a4a4a" stroke-width="3.6" stroke-linecap="butt"/>
<line x1="2011.5" y1="1526.3" x2="2044.5" y2="1526.3" stroke="#5a5a5a" stroke-width="4" stroke-linecap="butt"/>
<line x1="1682.4" y1="1332" x2="1682.4" y2="2082.0" stroke="#5a5a5a" stroke-width="3.6" stroke-linecap="butt"/>
<line x1="1667.4" y1="2080.2" x2="2127" y2="2080.2" stroke="#565656" stroke-width="4.5" stroke-linecap="butt"/>
<line x1="1667.4" y1="1395.9" x2="1682.4" y2="1395.9" stroke="#4f4f4f" stroke-width="4" stroke-linecap="butt"/>
<text x="1658.7" y="1411.4" font-size="33" font-weight="bold" text-anchor="end" fill="#000" textLength="46" lengthAdjust="spacingAndGlyphs" >1.0</text>
<line x1="1667.4" y1="1532.8" x2="1682.4" y2="1532.8" stroke="#4f4f4f" stroke-width="4" stroke-linecap="butt"/>
<text x="1658.7" y="1548.3" font-size="33" font-weight="bold" text-anchor="end" fill="#000" textLength="46" lengthAdjust="spacingAndGlyphs" >0.8</text>
<line x1="1667.4" y1="1669.6" x2="1682.4" y2="1669.6" stroke="#4f4f4f" stroke-width="4" stroke-linecap="butt"/>
<text x="1658.7" y="1685.1" font-size="33" font-weight="bold" text-anchor="end" fill="#000" textLength="46" lengthAdjust="spacingAndGlyphs" >0.6</text>
<line x1="1667.4" y1="1806.5" x2="1682.4" y2="1806.5" stroke="#4f4f4f" stroke-width="4" stroke-linecap="butt"/>
<text x="1658.7" y="1822.0" font-size="33" font-weight="bold" text-anchor="end" fill="#000" textLength="46" lengthAdjust="spacingAndGlyphs" >0.4</text>
<line x1="1667.4" y1="1943.3" x2="1682.4" y2="1943.3" stroke="#4f4f4f" stroke-width="4" stroke-linecap="butt"/>
<text x="1658.7" y="1958.8" font-size="33" font-weight="bold" text-anchor="end" fill="#000" textLength="46" lengthAdjust="spacingAndGlyphs" >0.2</text>
<line x1="1667.4" y1="2080.2" x2="1682.4" y2="2080.2" stroke="#4f4f4f" stroke-width="4" stroke-linecap="butt"/>
<text x="1658.7" y="2095.7" font-size="33" font-weight="bold" text-anchor="end" fill="#000" textLength="46" lengthAdjust="spacingAndGlyphs" >0.0</text>
<line x1="1674.4" y1="1464.35" x2="1682.4" y2="1464.35" stroke="#3a3a3a" stroke-width="4" stroke-linecap="butt"/>
<line x1="1674.4" y1="1601.1999999999998" x2="1682.4" y2="1601.1999999999998" stroke="#3a3a3a" stroke-width="4" stroke-linecap="butt"/>
<line x1="1674.4" y1="1738.05" x2="1682.4" y2="1738.05" stroke="#3a3a3a" stroke-width="4" stroke-linecap="butt"/>
<line x1="1674.4" y1="1874.9" x2="1682.4" y2="1874.9" stroke="#3a3a3a" stroke-width="4" stroke-linecap="butt"/>
<line x1="1674.4" y1="2011.75" x2="1682.4" y2="2011.75" stroke="#3a3a3a" stroke-width="4" stroke-linecap="butt"/>
<text x="0" y="0" font-size="46" font-weight="normal" text-anchor="middle" fill="#000" textLength="564" lengthAdjust="spacingAndGlyphs" transform="translate(1571,1713) rotate(-90)" stroke="#000" stroke-width="0.5">Normalized peak amplitude</text>
<text x="0" y="0" font-size="41" font-weight="normal" text-anchor="end" fill="#000" textLength="145.8" lengthAdjust="spacingAndGlyphs" transform="translate(1802,2141) scale(1.1,1) rotate(-45)" stroke="#000" stroke-width="1.35">Control</text>
<text x="0" y="0" font-size="41" font-weight="normal" text-anchor="end" fill="#000" textLength="166.3" lengthAdjust="spacingAndGlyphs" transform="translate(1923,2143) scale(1.1,1) rotate(-45)" stroke="#000" stroke-width="1.35">wtSTIM1</text>
<text x="0" y="0" font-size="41" font-weight="normal" text-anchor="end" fill="#000" textLength="264.3" lengthAdjust="spacingAndGlyphs" transform="translate(2054,2132) scale(1.1,1) rotate(-45)" stroke="#000" stroke-width="1.35">STIM1-R304Q</text>
<text x="1905" y="1665" font-size="110" font-weight="normal" text-anchor="middle" fill="#000" stroke="#000" stroke-width="2.6">*</text>
<text x="2028" y="1688" font-size="110" font-weight="normal" text-anchor="middle" fill="#000" stroke="#000" stroke-width="2.6">*</text>
<line x1="970" y1="2604" x2="1064" y2="2604" stroke="#0a0a0a" stroke-width="9.5" stroke-linecap="butt"/>
<text x="1091" y="2621" font-size="44" font-weight="bold" text-anchor="start" fill="#000" textLength="157" lengthAdjust="spacingAndGlyphs" >Control</text>
<line x1="970" y1="2669" x2="1064" y2="2669" stroke="#666" stroke-width="9.5" stroke-linecap="butt"/>
<text x="1091" y="2686" font-size="44" font-weight="bold" text-anchor="start" fill="#000" textLength="180" lengthAdjust="spacingAndGlyphs" >wtSTIM1</text>
<line x1="970" y1="2734" x2="1064" y2="2734" stroke="#bdbdbd" stroke-width="9.5" stroke-linecap="butt"/>
<text x="1091" y="2751" font-size="44" font-weight="bold" text-anchor="start" fill="#000" textLength="293" lengthAdjust="spacingAndGlyphs" >STIM1-R304Q</text>
<g filter="url(#soft)">
<path d="M360.0,3059.4h4.0v12.2h-4.0zM364.0,3059.5h4.0v20.1h-4.0zM368.0,3060.7h4.0v17.3h-4.0zM372.0,3060.8h4.0v19.8h-4.0zM376.0,3058.7h4.0v17.6h-4.0zM380.0,3062.6h4.0v12.2h-4.0zM384.0,3062.5h4.0v17.5h-4.0zM388.0,3063.3h4.0v14.8h-4.0zM392.0,3061.6h4.0v22.2h-4.0zM396.0,3066.8h4.0v21.3h-4.0zM400.0,3060.6h4.0v21.1h-4.0zM404.0,3066.9h4.0v18.5h-4.0zM408.0,3065.2h4.0v11.7h-4.0zM412.0,3066.4h4.0v13.9h-4.0zM416.0,3064.8h4.0v16.8h-4.0zM420.0,3062.5h4.0v21.0h-4.0zM424.0,3056.2h4.0v23.9h-4.0zM428.0,3061.4h4.0v16.0h-4.0zM432.0,3060.7h4.0v16.0h-4.0zM436.0,3060.0h4.0v13.3h-4.0zM440.0,3055.7h4.0v17.5h-4.0zM444.0,3065.8h4.0v16.6h-4.0zM448.0,3057.7h4.0v21.7h-4.0zM452.0,3062.9h4.0v15.6h-4.0zM456.0,3064.7h4.0v14.9h-4.0zM460.0,3068.9h4.0v12.6h-4.0zM464.0,3054.4h4.0v20.9h-4.0zM468.0,3059.3h4.0v19.6h-4.0zM472.0,3065.5h4.0v15.3h-4.0zM476.0,3064.1h4.0v17.6h-4.0zM480.0,3064.7h4.0v15.0h-4.0zM484.0,3058.9h4.0v12.9h-4.0zM488.0,3057.5h4.0v16.3h-4.0zM492.0,3063.0h4.0v15.4h-4.0zM496.0,3062.9h4.0v16.0h-4.0zM500.0,3067.6h4.0v15.4h-4.0zM504.0,3067.4h4.0v15.2h-4.0zM508.0,3063.9h4.0v18.0h-4.0zM512.0,3061.3h4.0v25.8h-4.0zM516.0,3064.2h4.0v14.1h-4.0zM520.0,3067.8h4.0v22.1h-4.0zM524.0,3060.0h4.0v18.9h-4.0zM528.0,3060.2h4.0v23.0h-4.0zM532.0,3057.9h4.0v18.0h-4.0zM536.0,3055.3h4.0v13.9h-4.0zM540.0,3066.5h4.0v12.5h-4.0zM544.0,3066.4h4.0v14.9h-4.0zM548.0,3061.2h4.0v22.2h-4.0zM552.0,3064.6h4.0v17.4h-4.0zM556.0,3058.9h4.0v13.1h-4.0zM560.0,3050.8h4.0v19.9h-4.0zM564.0,3053.9h4.0v19.8h-4.0zM568.0,3057.2h4.0v20.3h-4.0zM572.0,3041.3h4.0v30.3h-4.0zM588.0,2667.0h4.0v49.4h-4.0zM592.0,2641.7h4.0v35.0h-4.0zM596.0,2632.0h4.0v26.3h-4.0zM600.0,2627.3h4.0v28.4h-4.0zM604.0,2624.7h4.0v20.2h-4.0zM608.0,2611.3h4.0v19.2h-4.0zM612.0,2613.1h4.0v26.4h-4.0zM616.0,2618.3h4.0v16.6h-4.0zM620.0,2617.3h4.0v24.4h-4.0zM624.0,2606.8h4.0v31.9h-4.0zM628.0,2617.8h4.0v18.5h-4.0zM632.0,2610.2h4.0v19.8h-4.0zM636.0,2596.1h4.0v25.9h-4.0zM640.0,2617.7h4.0v20.4h-4.0zM644.0,2621.5h4.0v26.1h-4.0zM648.0,2617.5h4.0v23.9h-4.0zM652.0,2615.2h4.0v24.1h-4.0zM656.0,2607.7h4.0v29.4h-4.0zM660.0,2612.9h4.0v18.8h-4.0zM664.0,2612.5h4.0v20.1h-4.0zM668.0,2620.4h4.0v25.2h-4.0zM672.0,2609.0h4.0v26.3h-4.0zM676.0,2603.3h4.0v18.4h-4.0zM680.0,2607.7h4.0v23.2h-4.0zM684.0,2613.9h4.0v19.1h-4.0zM688.0,2604.2h4.0v18.9h-4.0zM692.0,2607.2h4.0v24.7h-4.0zM696.0,2612.0h4.0v19.8h-4.0zM700.0,2605.0h4.0v23.6h-4.0zM704.0,2619.0h4.0v32.1h-4.0zM708.0,2601.9h4.0v33.0h-4.0zM712.0,2618.1h4.0v21.8h-4.0zM716.0,2616.8h4.0v20.7h-4.0zM720.0,2615.8h4.0v20.5h-4.0zM724.0,2615.1h4.0v17.7h-4.0zM728.0,2611.7h4.0v20.9h-4.0zM732.0,2617.9h4.0v21.8h-4.0zM736.0,2621.2h4.0v23.3h-4.0zM740.0,2619.5h4.0v18.6h-4.0zM744.0,2611.3h4.0v22.0h-4.0zM748.0,2618.7h4.0v21.4h-4.0zM752.0,2614.9h4.0v19.5h-4.0zM756.0,2629.9h4.0v21.7h-4.0zM760.0,2619.9h4.0v27.8h-4.0zM764.0,2621.4h4.0v23.0h-4.0zM768.0,2624.6h4.0v16.4h-4.0zM772.0,2635.7h4.0v22.0h-4.0zM776.0,2622.8h4.0v25.4h-4.0zM780.0,2627.8h4.0v18.2h-4.0zM784.0,2622.4h4.0v23.7h-4.0zM788.0,2647.2h4.0v19.3h-4.0zM792.0,2628.4h4.0v25.0h-4.0zM796.0,2634.2h4.0v27.6h-4.0zM800.0,2634.1h4.0v21.5h-4.0zM804.0,2632.7h4.0v19.8h-4.0zM808.0,2633.8h4.0v23.8h-4.0zM812.0,2651.4h4.0v22.7h-4.0zM816.0,2639.9h4.0v21.8h-4.0zM820.0,2634.1h4.0v26.4h-4.0zM824.0,2638.4h4.0v35.5h-4.0zM828.0,2640.3h4.0v25.8h-4.0zM832.0,2651.4h4.0v24.1h-4.0zM836.0,2640.7h4.0v22.9h-4.0zM840.0,2650.2h4.0v23.7h-4.0zM844.0,2661.8h4.0v22.5h-4.0zM848.0,2648.3h4.0v20.4h-4.0zM852.0,2651.0h4.0v18.4h-4.0zM856.0,2654.5h4.0v19.7h-4.0zM860.0,2668.4h4.0v22.1h-4.0zM864.0,2657.5h4.0v27.2h-4.0zM868.0,2669.6h4.0v20.2h-4.0zM872.0,2662.5h4.0v30.1h-4.0zM876.0,2661.9h4.0v26.6h-4.0zM880.0,2672.5h4.0v20.4h-4.0zM884.0,2672.0h4.0v28.7h-4.0zM888.0,2673.7h4.0v24.4h-4.0zM892.0,2675.6h4.0v23.2h-4.0zM896.0,2683.4h4.0v29.2h-4.0zM900.0,2696.0h4.0v49.5h-4.0zM904.0,2730.0h4.0v53.6h-4.0zM908.0,2765.5h4.0v53.9h-4.0zM920.0,2884.9h4.0v48.4h-4.0zM924.0,2924.3h4.0v35.1h-4.0zM928.0,2934.8h4.0v33.1h-4.0zM932.0,2952.9h4.0v36.2h-4.0zM936.0,2963.2h4.0v28.7h-4.0zM940.0,2973.5h4.0v29.0h-4.0zM944.0,2989.0h4.0v25.4h-4.0zM948.0,2991.7h4.0v27.9h-4.0zM952.0,3003.2h4.0v23.6h-4.0zM956.0,3007.5h4.0v32.0h-4.0zM960.0,3014.7h4.0v18.1h-4.0zM964.0,3016.2h4.0v25.1h-4.0zM968.0,3019.5h4.0v18.2h-4.0zM972.0,3021.1h4.0v31.2h-4.0zM976.0,3030.7h4.0v20.6h-4.0zM980.0,3027.5h4.0v15.6h-4.0zM984.0,3031.4h4.0v19.7h-4.0zM988.0,3033.9h4.0v18.1h-4.0zM992.0,3028.2h4.0v25.6h-4.0zM996.0,3017.4h4.0v26.0h-4.0zM1000.0,3033.8h4.0v23.5h-4.0zM1004.0,3043.3h4.0v23.5h-4.0zM1008.0,3034.0h4.0v18.7h-4.0zM1012.0,3035.5h4.0v23.9h-4.0zM1016.0,3047.7h4.0v23.9h-4.0zM1020.0,3045.9h4.0v15.3h-4.0zM1024.0,3043.1h4.0v20.8h-4.0zM1028.0,3040.5h4.0v20.8h-4.0zM1032.0,3051.2h4.0v19.4h-4.0zM1036.0,3052.5h4.0v21.3h-4.0zM1040.0,3044.6h4.0v16.6h-4.0zM1044.0,3044.9h4.0v19.7h-4.0zM1048.0,3046.1h4.0v15.1h-4.0zM1052.0,3049.0h4.0v25.9h-4.0zM1056.0,3049.6h4.0v17.9h-4.0zM1060.0,3046.0h4.0v13.8h-4.0zM1064.0,3053.0h4.0v16.0h-4.0zM1068.0,3050.3h4.0v18.2h-4.0zM1072.0,3052.6h4.0v16.9h-4.0zM1076.0,3048.3h4.0v25.4h-4.0zM1080.0,3046.7h4.0v20.1h-4.0zM1084.0,3045.9h4.0v17.7h-4.0zM1088.0,3048.7h4.0v23.9h-4.0zM1092.0,3052.2h4.0v14.1h-4.0zM1096.0,3045.5h4.0v16.9h-4.0zM1100.0,3052.9h4.0v17.0h-4.0zM1104.0,3050.7h4.0v15.2h-4.0zM1108.0,3055.6h4.0v17.9h-4.0zM1112.0,3051.6h4.0v18.2h-4.0zM1116.0,3055.2h4.0v17.3h-4.0zM1120.0,3051.5h4.0v21.6h-4.0zM1124.0,3044.1h4.0v17.8h-4.0zM1128.0,3055.9h4.0v14.0h-4.0zM1132.0,3050.3h4.0v19.2h-4.0zM1136.0,3055.3h4.0v19.1h-4.0zM1140.0,3050.4h4.0v26.3h-4.0zM1144.0,3057.4h4.0v19.2h-4.0zM1148.0,3056.0h4.0v19.2h-4.0zM1152.0,3057.6h4.0v17.4h-4.0zM1156.0,3064.5h4.0v22.1h-4.0z" fill="#0a0a0a"/>
<polyline points="575.0,3063.0 576.7,3039.0 581.0,2900.0 585.5,2760.0 588.5,2700.0 589.0,2695.8" fill="none" stroke="#0a0a0a" stroke-width="4.2" stroke-linejoin="round" stroke-linecap="round" opacity="0.9"/>
<polyline points="911.0,2805.0 921.0,2905.5" fill="none" stroke="#0a0a0a" stroke-width="4.2" stroke-linejoin="round" stroke-linecap="round" opacity="0.9"/>
<path d="M360.0,3044.3h4.0v25.8h-4.0zM364.0,3054.7h4.0v17.6h-4.0zM368.0,3060.4h4.0v17.7h-4.0zM372.0,3058.1h4.0v14.1h-4.0zM376.0,3066.3h4.0v17.7h-4.0zM380.0,3057.2h4.0v21.8h-4.0zM384.0,3061.2h4.0v15.2h-4.0zM388.0,3053.3h4.0v21.3h-4.0zM392.0,3054.8h4.0v15.2h-4.0zM396.0,3056.2h4.0v17.9h-4.0zM400.0,3053.0h4.0v26.7h-4.0zM404.0,3057.1h4.0v15.9h-4.0zM408.0,3055.0h4.0v16.3h-4.0zM412.0,3052.6h4.0v17.7h-4.0zM416.0,3057.8h4.0v16.2h-4.0zM420.0,3057.3h4.0v21.2h-4.0zM424.0,3058.6h4.0v22.4h-4.0zM428.0,3052.0h4.0v24.5h-4.0zM432.0,3056.2h4.0v18.1h-4.0zM436.0,3068.0h4.0v21.6h-4.0zM440.0,3058.2h4.0v14.8h-4.0zM444.0,3058.6h4.0v25.4h-4.0zM448.0,3054.6h4.0v22.3h-4.0zM452.0,3057.4h4.0v16.8h-4.0zM456.0,3064.3h4.0v19.1h-4.0zM460.0,3062.9h4.0v14.1h-4.0zM464.0,3057.9h4.0v15.3h-4.0zM468.0,3058.2h4.0v14.7h-4.0zM472.0,3058.0h4.0v10.8h-4.0zM476.0,3055.2h4.0v18.8h-4.0zM480.0,3059.2h4.0v19.6h-4.0zM484.0,3051.5h4.0v24.7h-4.0zM488.0,3063.6h4.0v17.2h-4.0zM492.0,3058.6h4.0v15.2h-4.0zM496.0,3064.5h4.0v21.1h-4.0zM500.0,3060.6h4.0v14.8h-4.0zM504.0,3057.0h4.0v17.0h-4.0zM508.0,3062.7h4.0v12.4h-4.0zM512.0,3057.7h4.0v19.6h-4.0zM516.0,3056.0h4.0v16.9h-4.0zM520.0,3065.2h4.0v13.1h-4.0zM524.0,3061.5h4.0v16.1h-4.0zM528.0,3059.1h4.0v17.9h-4.0zM532.0,3060.4h4.0v21.8h-4.0zM536.0,3050.1h4.0v19.9h-4.0zM540.0,3053.8h4.0v18.8h-4.0zM544.0,3069.5h4.0v17.5h-4.0zM548.0,3057.4h4.0v17.2h-4.0zM552.0,3056.4h4.0v15.7h-4.0zM556.0,3061.1h4.0v14.6h-4.0zM560.0,3066.0h4.0v17.7h-4.0zM564.0,3054.0h4.0v18.7h-4.0zM588.0,2670.1h4.0v44.1h-4.0zM592.0,2654.8h4.0v27.2h-4.0zM596.0,2646.5h4.0v25.8h-4.0zM600.0,2643.9h4.0v22.0h-4.0zM604.0,2634.7h4.0v23.5h-4.0zM608.0,2637.9h4.0v18.4h-4.0zM612.0,2633.4h4.0v27.4h-4.0zM616.0,2622.4h4.0v18.5h-4.0zM620.0,2620.9h4.0v17.9h-4.0zM624.0,2640.0h4.0v19.3h-4.0zM628.0,2633.4h4.0v23.6h-4.0zM632.0,2627.0h4.0v19.5h-4.0zM636.0,2634.2h4.0v28.0h-4.0zM640.0,2624.8h4.0v19.2h-4.0zM644.0,2623.8h4.0v15.9h-4.0zM648.0,2615.8h4.0v23.7h-4.0zM652.0,2628.0h4.0v24.5h-4.0zM656.0,2615.9h4.0v26.9h-4.0zM660.0,2620.8h4.0v27.3h-4.0zM664.0,2642.9h4.0v22.3h-4.0zM668.0,2631.4h4.0v20.2h-4.0zM672.0,2633.7h4.0v18.5h-4.0zM676.0,2633.5h4.0v25.1h-4.0zM680.0,2635.8h4.0v26.5h-4.0zM684.0,2627.9h4.0v28.2h-4.0zM688.0,2622.0h4.0v18.3h-4.0zM692.0,2635.0h4.0v17.5h-4.0zM696.0,2639.2h4.0v20.4h-4.0zM700.0,2640.6h4.0v19.0h-4.0zM704.0,2625.5h4.0v27.1h-4.0zM708.0,2636.8h4.0v18.8h-4.0zM712.0,2622.7h4.0v29.8h-4.0zM716.0,2632.6h4.0v18.0h-4.0zM720.0,2636.7h4.0v23.0h-4.0zM724.0,2627.6h4.0v17.5h-4.0zM728.0,2653.1h4.0v20.5h-4.0zM732.0,2631.3h4.0v32.0h-4.0zM736.0,2636.3h4.0v19.0h-4.0zM740.0,2646.7h4.0v20.2h-4.0zM744.0,2642.5h4.0v22.8h-4.0zM748.0,2642.8h4.0v16.6h-4.0zM752.0,2644.6h4.0v22.9h-4.0zM756.0,2641.1h4.0v32.5h-4.0zM760.0,2633.3h4.0v21.1h-4.0zM764.0,2644.1h4.0v31.4h-4.0zM768.0,2645.1h4.0v21.9h-4.0zM772.0,2639.4h4.0v26.8h-4.0zM776.0,2646.5h4.0v21.2h-4.0zM780.0,2647.4h4.0v22.2h-4.0zM784.0,2649.3h4.0v17.4h-4.0zM788.0,2653.4h4.0v25.4h-4.0zM792.0,2640.4h4.0v23.2h-4.0zM796.0,2654.6h4.0v33.2h-4.0zM800.0,2652.3h4.0v20.7h-4.0zM804.0,2657.9h4.0v24.0h-4.0zM808.0,2651.8h4.0v24.6h-4.0zM812.0,2646.5h4.0v21.1h-4.0zM816.0,2660.8h4.0v23.3h-4.0zM820.0,2651.4h4.0v23.7h-4.0zM824.0,2668.6h4.0v16.6h-4.0zM828.0,2666.9h4.0v19.0h-4.0zM832.0,2669.6h4.0v19.7h-4.0zM836.0,2664.9h4.0v18.1h-4.0zM840.0,2675.9h4.0v17.6h-4.0zM844.0,2661.3h4.0v26.3h-4.0zM848.0,2666.0h4.0v25.1h-4.0zM852.0,2673.4h4.0v27.6h-4.0zM856.0,2673.3h4.0v20.3h-4.0zM860.0,2668.9h4.0v34.7h-4.0zM864.0,2680.0h4.0v21.3h-4.0zM868.0,2667.7h4.0v27.9h-4.0zM872.0,2676.0h4.0v29.4h-4.0zM876.0,2681.1h4.0v28.2h-4.0zM880.0,2683.3h4.0v29.6h-4.0zM884.0,2682.7h4.0v20.4h-4.0zM888.0,2700.0h4.0v27.6h-4.0zM892.0,2702.3h4.0v46.4h-4.0zM916.0,2981.8h4.0v31.0h-4.0zM920.0,2998.1h4.0v30.2h-4.0zM924.0,3003.0h4.0v30.1h-4.0zM928.0,3019.0h4.0v30.6h-4.0zM932.0,3028.2h4.0v31.6h-4.0zM936.0,3039.2h4.0v17.9h-4.0zM940.0,3044.0h4.0v23.5h-4.0zM944.0,3049.0h4.0v18.5h-4.0zM948.0,3041.0h4.0v21.2h-4.0zM952.0,3048.4h4.0v19.6h-4.0zM956.0,3053.8h4.0v18.6h-4.0zM960.0,3056.3h4.0v17.7h-4.0zM964.0,3057.0h4.0v18.0h-4.0zM968.0,3053.4h4.0v22.6h-4.0zM972.0,3060.0h4.0v26.0h-4.0zM976.0,3063.9h4.0v20.6h-4.0zM980.0,3063.8h4.0v21.5h-4.0zM984.0,3066.0h4.0v20.8h-4.0zM988.0,3055.8h4.0v20.2h-4.0zM992.0,3060.7h4.0v16.3h-4.0zM996.0,3067.0h4.0v16.3h-4.0zM1000.0,3062.8h4.0v19.5h-4.0zM1004.0,3069.0h4.0v16.1h-4.0zM1008.0,3060.2h4.0v21.8h-4.0zM1012.0,3064.7h4.0v19.5h-4.0zM1016.0,3067.6h4.0v21.0h-4.0zM1020.0,3074.9h4.0v18.6h-4.0zM1024.0,3074.6h4.0v20.0h-4.0zM1028.0,3074.6h4.0v17.0h-4.0zM1032.0,3069.9h4.0v19.1h-4.0zM1036.0,3066.0h4.0v15.6h-4.0zM1040.0,3067.6h4.0v17.2h-4.0zM1044.0,3068.6h4.0v13.9h-4.0zM1048.0,3073.6h4.0v18.7h-4.0zM1052.0,3073.3h4.0v19.4h-4.0zM1056.0,3067.1h4.0v15.0h-4.0zM1060.0,3075.5h4.0v18.4h-4.0zM1064.0,3072.1h4.0v16.4h-4.0zM1068.0,3076.8h4.0v15.7h-4.0zM1072.0,3065.1h4.0v22.8h-4.0zM1076.0,3066.0h4.0v25.1h-4.0zM1080.0,3067.8h4.0v16.6h-4.0zM1084.0,3078.0h4.0v18.3h-4.0zM1088.0,3079.7h4.0v16.8h-4.0zM1092.0,3064.5h4.0v15.1h-4.0zM1096.0,3078.4h4.0v20.1h-4.0zM1100.0,3072.3h4.0v18.7h-4.0zM1104.0,3075.3h4.0v16.8h-4.0zM1108.0,3069.7h4.0v16.0h-4.0zM1112.0,3062.0h4.0v22.8h-4.0zM1116.0,3064.5h4.0v29.6h-4.0zM1120.0,3083.5h4.0v19.7h-4.0zM1124.0,3071.1h4.0v27.6h-4.0zM1128.0,3071.5h4.0v15.7h-4.0zM1132.0,3077.6h4.0v24.8h-4.0zM1136.0,3082.7h4.0v15.9h-4.0zM1140.0,3065.1h4.0v21.2h-4.0zM1144.0,3082.4h4.0v20.2h-4.0zM1148.0,3077.0h4.0v21.0h-4.0zM1152.0,3075.6h4.0v16.1h-4.0zM1156.0,3082.7h4.0v21.3h-4.0z" fill="#5e5e5e"/>
<polyline points="567.0,3068.0 570.0,3068.0 578.0,2900.0 583.0,2770.0 587.0,2712.0 589.0,2696.8" fill="none" stroke="#5e5e5e" stroke-width="3.6" stroke-linejoin="round" stroke-linecap="round" opacity="0.9"/>
<polyline points="895.0,2725.5 905.0,2860.0 916.0,2987.7 917.0,2991.0" fill="none" stroke="#5e5e5e" stroke-width="3.6" stroke-linejoin="round" stroke-linecap="round" opacity="0.9"/>
<path d="M360.0,3052.8h4.0v18.4h-4.0zM364.0,3058.3h4.0v18.6h-4.0zM368.0,3046.1h4.0v26.4h-4.0zM372.0,3049.6h4.0v17.8h-4.0zM376.0,3059.2h4.0v12.4h-4.0zM380.0,3053.0h4.0v16.5h-4.0zM384.0,3050.0h4.0v14.4h-4.0zM388.0,3050.7h4.0v22.1h-4.0zM392.0,3059.6h4.0v12.7h-4.0zM396.0,3056.9h4.0v17.7h-4.0zM400.0,3051.4h4.0v15.3h-4.0zM404.0,3054.6h4.0v17.5h-4.0zM408.0,3051.3h4.0v14.4h-4.0zM412.0,3051.1h4.0v16.1h-4.0zM416.0,3055.1h4.0v20.0h-4.0zM420.0,3060.6h4.0v16.2h-4.0zM424.0,3051.8h4.0v20.0h-4.0zM428.0,3056.8h4.0v26.0h-4.0zM432.0,3053.7h4.0v26.2h-4.0zM436.0,3060.8h4.0v13.7h-4.0zM440.0,3053.5h4.0v15.4h-4.0zM444.0,3051.2h4.0v21.0h-4.0zM448.0,3051.2h4.0v16.4h-4.0zM452.0,3057.9h4.0v17.2h-4.0zM456.0,3054.0h4.0v13.5h-4.0zM460.0,3050.2h4.0v17.1h-4.0zM464.0,3061.6h4.0v15.0h-4.0zM468.0,3066.4h4.0v14.7h-4.0zM472.0,3059.7h4.0v17.4h-4.0zM476.0,3058.4h4.0v19.1h-4.0zM480.0,3058.6h4.0v19.3h-4.0zM484.0,3061.1h4.0v13.3h-4.0zM488.0,3041.6h4.0v21.7h-4.0zM492.0,3047.2h4.0v20.2h-4.0zM496.0,3047.3h4.0v22.4h-4.0zM500.0,3051.7h4.0v19.2h-4.0zM504.0,3051.1h4.0v20.6h-4.0zM508.0,3056.8h4.0v16.9h-4.0zM512.0,3056.0h4.0v15.7h-4.0zM516.0,3052.0h4.0v16.7h-4.0zM520.0,3058.6h4.0v15.7h-4.0zM524.0,3058.7h4.0v21.6h-4.0zM528.0,3053.4h4.0v16.2h-4.0zM532.0,3063.3h4.0v13.8h-4.0zM536.0,3048.6h4.0v19.3h-4.0zM540.0,3055.6h4.0v17.1h-4.0zM544.0,3064.3h4.0v14.1h-4.0zM548.0,3056.1h4.0v13.8h-4.0zM552.0,3052.2h4.0v22.1h-4.0zM556.0,3046.0h4.0v18.4h-4.0zM560.0,3052.9h4.0v16.7h-4.0zM564.0,3052.5h4.0v19.0h-4.0zM568.0,3035.1h4.0v34.7h-4.0zM588.0,2681.5h4.0v45.5h-4.0zM592.0,2658.9h4.0v35.6h-4.0zM596.0,2653.0h4.0v31.7h-4.0zM600.0,2642.6h4.0v32.8h-4.0zM604.0,2635.6h4.0v22.9h-4.0zM608.0,2640.4h4.0v21.8h-4.0zM612.0,2636.0h4.0v25.6h-4.0zM616.0,2637.1h4.0v19.4h-4.0zM620.0,2629.5h4.0v21.9h-4.0zM624.0,2627.3h4.0v29.3h-4.0zM628.0,2636.9h4.0v26.9h-4.0zM632.0,2629.7h4.0v28.5h-4.0zM636.0,2646.3h4.0v23.7h-4.0zM640.0,2623.8h4.0v24.8h-4.0zM644.0,2634.4h4.0v18.9h-4.0zM648.0,2628.5h4.0v26.1h-4.0zM652.0,2628.4h4.0v25.3h-4.0zM656.0,2635.9h4.0v20.5h-4.0zM660.0,2617.8h4.0v25.1h-4.0zM664.0,2638.6h4.0v18.2h-4.0zM668.0,2634.5h4.0v22.2h-4.0zM672.0,2636.6h4.0v17.5h-4.0zM676.0,2628.8h4.0v22.4h-4.0zM680.0,2647.5h4.0v17.3h-4.0zM684.0,2640.7h4.0v29.0h-4.0zM688.0,2635.3h4.0v29.6h-4.0zM692.0,2645.4h4.0v20.3h-4.0zM696.0,2635.0h4.0v22.5h-4.0zM700.0,2632.2h4.0v35.2h-4.0zM704.0,2637.8h4.0v24.1h-4.0zM708.0,2645.1h4.0v18.2h-4.0zM712.0,2637.6h4.0v25.3h-4.0zM716.0,2637.8h4.0v24.3h-4.0zM720.0,2643.4h4.0v23.4h-4.0zM724.0,2628.7h4.0v36.7h-4.0zM728.0,2634.4h4.0v21.0h-4.0zM732.0,2642.5h4.0v26.0h-4.0zM736.0,2649.4h4.0v26.9h-4.0zM740.0,2633.3h4.0v22.2h-4.0zM744.0,2649.0h4.0v20.2h-4.0zM748.0,2640.3h4.0v27.3h-4.0zM752.0,2648.7h4.0v27.7h-4.0zM756.0,2641.7h4.0v22.0h-4.0zM760.0,2645.2h4.0v22.1h-4.0zM764.0,2645.8h4.0v23.4h-4.0zM768.0,2637.9h4.0v25.4h-4.0zM772.0,2645.4h4.0v23.3h-4.0zM776.0,2651.6h4.0v28.5h-4.0zM780.0,2630.1h4.0v35.5h-4.0zM784.0,2640.8h4.0v20.6h-4.0zM788.0,2658.0h4.0v19.1h-4.0zM792.0,2636.2h4.0v25.6h-4.0zM796.0,2632.0h4.0v31.8h-4.0zM800.0,2652.9h4.0v22.4h-4.0zM804.0,2650.7h4.0v24.0h-4.0zM808.0,2654.8h4.0v27.5h-4.0zM812.0,2652.1h4.0v28.2h-4.0zM816.0,2655.6h4.0v25.5h-4.0zM820.0,2647.7h4.0v31.3h-4.0zM824.0,2660.6h4.0v35.3h-4.0zM828.0,2655.4h4.0v28.7h-4.0zM832.0,2661.2h4.0v21.6h-4.0zM836.0,2653.9h4.0v28.0h-4.0zM840.0,2668.9h4.0v21.6h-4.0zM844.0,2670.7h4.0v20.3h-4.0zM848.0,2673.1h4.0v28.0h-4.0zM852.0,2668.3h4.0v21.4h-4.0zM856.0,2668.0h4.0v27.0h-4.0zM860.0,2687.5h4.0v21.4h-4.0zM864.0,2681.4h4.0v26.3h-4.0zM868.0,2684.3h4.0v22.2h-4.0zM872.0,2685.9h4.0v19.1h-4.0zM876.0,2682.7h4.0v21.9h-4.0zM880.0,2681.7h4.0v23.7h-4.0zM884.0,2678.8h4.0v22.1h-4.0zM888.0,2696.0h4.0v29.5h-4.0zM892.0,2689.1h4.0v34.6h-4.0zM896.0,2713.1h4.0v52.2h-4.0zM912.0,2885.7h4.0v40.7h-4.0zM916.0,2912.7h4.0v43.7h-4.0zM920.0,2944.5h4.0v45.4h-4.0zM924.0,2967.6h4.0v46.4h-4.0zM928.0,2976.6h4.0v34.5h-4.0zM932.0,2998.3h4.0v24.4h-4.0zM936.0,3004.6h4.0v24.6h-4.0zM940.0,3007.2h4.0v27.0h-4.0zM944.0,3020.1h4.0v29.7h-4.0zM948.0,3021.5h4.0v29.1h-4.0zM952.0,3031.4h4.0v18.9h-4.0zM956.0,3031.3h4.0v21.3h-4.0zM960.0,3040.8h4.0v19.6h-4.0zM964.0,3046.3h4.0v19.2h-4.0zM968.0,3042.6h4.0v22.8h-4.0zM972.0,3051.4h4.0v18.3h-4.0zM976.0,3038.0h4.0v22.9h-4.0zM980.0,3051.8h4.0v20.0h-4.0zM984.0,3035.2h4.0v24.1h-4.0zM988.0,3046.4h4.0v20.4h-4.0zM992.0,3045.3h4.0v21.0h-4.0zM996.0,3043.6h4.0v16.1h-4.0zM1000.0,3049.8h4.0v20.6h-4.0zM1004.0,3045.4h4.0v18.6h-4.0zM1008.0,3038.0h4.0v22.4h-4.0zM1012.0,3045.0h4.0v19.2h-4.0zM1016.0,3038.8h4.0v15.1h-4.0zM1020.0,3043.7h4.0v16.3h-4.0zM1024.0,3047.8h4.0v17.3h-4.0zM1028.0,3038.0h4.0v17.8h-4.0zM1032.0,3045.1h4.0v17.2h-4.0zM1036.0,3050.4h4.0v19.9h-4.0zM1040.0,3048.0h4.0v18.0h-4.0zM1044.0,3040.6h4.0v28.5h-4.0zM1048.0,3046.6h4.0v24.1h-4.0zM1052.0,3052.4h4.0v16.3h-4.0zM1056.0,3053.7h4.0v19.3h-4.0zM1060.0,3047.4h4.0v20.9h-4.0zM1064.0,3048.9h4.0v16.5h-4.0zM1068.0,3048.4h4.0v27.3h-4.0zM1072.0,3050.9h4.0v21.9h-4.0zM1076.0,3053.6h4.0v16.7h-4.0zM1080.0,3046.0h4.0v19.6h-4.0zM1084.0,3052.0h4.0v22.1h-4.0zM1088.0,3047.3h4.0v29.0h-4.0zM1092.0,3046.3h4.0v25.5h-4.0zM1096.0,3043.5h4.0v20.0h-4.0zM1100.0,3046.7h4.0v27.8h-4.0zM1104.0,3054.4h4.0v16.1h-4.0zM1108.0,3056.6h4.0v17.7h-4.0zM1112.0,3047.2h4.0v25.9h-4.0zM1116.0,3055.4h4.0v18.7h-4.0zM1120.0,3039.1h4.0v26.7h-4.0zM1124.0,3055.7h4.0v20.7h-4.0zM1128.0,3055.1h4.0v20.8h-4.0zM1132.0,3061.0h4.0v19.6h-4.0zM1136.0,3059.2h4.0v20.3h-4.0zM1140.0,3056.3h4.0v23.4h-4.0zM1144.0,3051.3h4.0v22.2h-4.0zM1148.0,3050.5h4.0v21.8h-4.0zM1152.0,3061.1h4.0v21.0h-4.0zM1156.0,3054.6h4.0v24.4h-4.0z" fill="#a9a9a9"/>
<polyline points="571.0,3064.0 578.5,2900.0 583.5,2770.0 588.0,2712.0 589.0,2706.0" fill="none" stroke="#a9a9a9" stroke-width="3.2" stroke-linejoin="round" stroke-linecap="round" opacity="0.9"/>
<polyline points="899.0,2745.7 911.0,2888.0 913.0,2901.5" fill="none" stroke="#a9a9a9" stroke-width="3.2" stroke-linejoin="round" stroke-linecap="round" opacity="0.9"/>
</g>
<rect x="583.8" y="3168" width="332.6" height="21" fill="#161208" stroke="#3a5a78" stroke-width="1.5"/>
<text x="649" y="3250.5" font-size="49" font-weight="normal" text-anchor="start" fill="#000" textLength="207" lengthAdjust="spacingAndGlyphs" stroke="#000" stroke-width="0.9">Caffeine</text>
<line x1="1070.4" y1="3176" x2="1070.4" y2="3284.1" stroke="#0d0d0d" stroke-width="5.27" stroke-linecap="butt"/>
<line x1="1067.796" y1="3281" x2="1205" y2="3281" stroke="#0d0d0d" stroke-width="6.2" stroke-linecap="butt"/>
<text x="1080.5" y="3330" font-size="42" font-weight="bold" text-anchor="start" fill="#000" textLength="114" lengthAdjust="spacingAndGlyphs" >10 sec</text>
<text x="0" y="0" font-size="42" font-weight="bold" text-anchor="start" fill="#000" textLength="118" lengthAdjust="spacingAndGlyphs" transform="translate(983,3273) rotate(-90)" >40 a.u.</text>
<text x="0" y="0" font-size="40" font-weight="bold" text-anchor="start" fill="#000" textLength="148" lengthAdjust="spacingAndGlyphs" transform="translate(1027,3275.5) rotate(-90)" >(F-F<tspan font-size="24.8" dy="6.4">0</tspan><tspan dy="-6.4">)/F</tspan><tspan font-size="24.8" dy="6.4">0</tspan></text>
<rect x="1726.3" y="2542.8" width="86.20000000000005" height="639.1999999999998" fill="#000"/>
<rect x="1847.2" y="2524.4" width="83.40000000000005" height="657.6" fill="#878787" stroke="#101010" stroke-width="4.8"/>
<rect x="1968.1000000000001" y="2520.0" width="84.1" height="661.9999999999998" fill="#c8c8c8" stroke="#707070" stroke-width="3.4"/>
<line x1="1769.4" y1="2514" x2="1769.4" y2="2543" stroke="#4a4a4a" stroke-width="3.6" stroke-linecap="butt"/>
<line x1="1754.4" y1="2514" x2="1784.4" y2="2514" stroke="#5a5a5a" stroke-width="4" stroke-linecap="butt"/>
<line x1="1890" y1="2490.3" x2="1890" y2="2523" stroke="#4a4a4a" stroke-width="3.6" stroke-linecap="butt"/>
<line x1="1875.0" y1="2490.3" x2="1905.0" y2="2490.3" stroke="#5a5a5a" stroke-width="4" stroke-linecap="butt"/>
<line x1="2011.6" y1="2490.3" x2="2011.6" y2="2519" stroke="#4a4a4a" stroke-width="3.6" stroke-linecap="butt"/>
<line x1="1996.6" y1="2490.3" x2="2026.6" y2="2490.3" stroke="#5a5a5a" stroke-width="4" stroke-linecap="butt"/>
<line x1="1672" y1="2447" x2="1672" y2="3184.1" stroke="#686868" stroke-width="4.2" stroke-linecap="butt"/>
<line x1="1657" y1="3182" x2="2108.6" y2="3182" stroke="#000" stroke-width="5.5" stroke-linecap="butt"/>
<line x1="1657" y1="2544.5" x2="1672" y2="2544.5" stroke="#4f4f4f" stroke-width="4" stroke-linecap="butt"/>
<text x="1641.5" y="2546.5" font-size="32.5" font-weight="bold" text-anchor="end" fill="#000" textLength="43.5" lengthAdjust="spacingAndGlyphs" >1.0</text>
<line x1="1657" y1="2672" x2="1672" y2="2672" stroke="#4f4f4f" stroke-width="4" stroke-linecap="butt"/>
<text x="1641.5" y="2674" font-size="32.5" font-weight="bold" text-anchor="end" fill="#000" textLength="43.5" lengthAdjust="spacingAndGlyphs" >0.8</text>
<line x1="1657" y1="2799.5" x2="1672" y2="2799.5" stroke="#4f4f4f" stroke-width="4" stroke-linecap="butt"/>
<text x="1641.5" y="2801.5" font-size="32.5" font-weight="bold" text-anchor="end" fill="#000" textLength="43.5" lengthAdjust="spacingAndGlyphs" >0.6</text>
<line x1="1657" y1="2927" x2="1672" y2="2927" stroke="#4f4f4f" stroke-width="4" stroke-linecap="butt"/>
<text x="1641.5" y="2929" font-size="32.5" font-weight="bold" text-anchor="end" fill="#000" textLength="43.5" lengthAdjust="spacingAndGlyphs" >0.4</text>
<line x1="1657" y1="3054.5" x2="1672" y2="3054.5" stroke="#4f4f4f" stroke-width="4" stroke-linecap="butt"/>
<text x="1641.5" y="3056.5" font-size="32.5" font-weight="bold" text-anchor="end" fill="#000" textLength="43.5" lengthAdjust="spacingAndGlyphs" >0.2</text>
<line x1="1657" y1="3182" x2="1672" y2="3182" stroke="#4f4f4f" stroke-width="4" stroke-linecap="butt"/>
<text x="1641.5" y="3184" font-size="32.5" font-weight="bold" text-anchor="end" fill="#000" textLength="43.5" lengthAdjust="spacingAndGlyphs" >0.0</text>
<line x1="1664" y1="2480" x2="1672" y2="2480" stroke="#3a3a3a" stroke-width="4" stroke-linecap="butt"/>
<line x1="1664" y1="2608.25" x2="1672" y2="2608.25" stroke="#3a3a3a" stroke-width="4" stroke-linecap="butt"/>
<line x1="1664" y1="2735.75" x2="1672" y2="2735.75" stroke="#3a3a3a" stroke-width="4" stroke-linecap="butt"/>
<line x1="1664" y1="2863.25" x2="1672" y2="2863.25" stroke="#3a3a3a" stroke-width="4" stroke-linecap="butt"/>
<line x1="1664" y1="2990.75" x2="1672" y2="2990.75" stroke="#3a3a3a" stroke-width="4" stroke-linecap="butt"/>
<line x1="1664" y1="3118.25" x2="1672" y2="3118.25" stroke="#3a3a3a" stroke-width="4" stroke-linecap="butt"/>
<text x="0" y="0" font-size="45.4" font-weight="normal" text-anchor="middle" fill="#000" textLength="549.6" lengthAdjust="spacingAndGlyphs" transform="translate(1556,2815) rotate(-90)" stroke="#000" stroke-width="0.5">Normalized peak amplitude</text>
<text x="0" y="0" font-size="41" font-weight="normal" text-anchor="end" fill="#000" textLength="145.8" lengthAdjust="spacingAndGlyphs" transform="translate(1788,3240) scale(1.1,1) rotate(-45)" stroke="#000" stroke-width="1.35">Control</text>
<text x="0" y="0" font-size="41" font-weight="normal" text-anchor="end" fill="#000" textLength="166.3" lengthAdjust="spacingAndGlyphs" transform="translate(1905,3240) scale(1.1,1) rotate(-45)" stroke="#000" stroke-width="1.35">wtSTIM1</text>
<text x="0" y="0" font-size="41" font-weight="normal" text-anchor="end" fill="#000" textLength="264.3" lengthAdjust="spacingAndGlyphs" transform="translate(2040,3233) scale(1.1,1) rotate(-45)" stroke="#000" stroke-width="1.35">STIM1-R304Q</text>
</svg>
</body>
</html>
